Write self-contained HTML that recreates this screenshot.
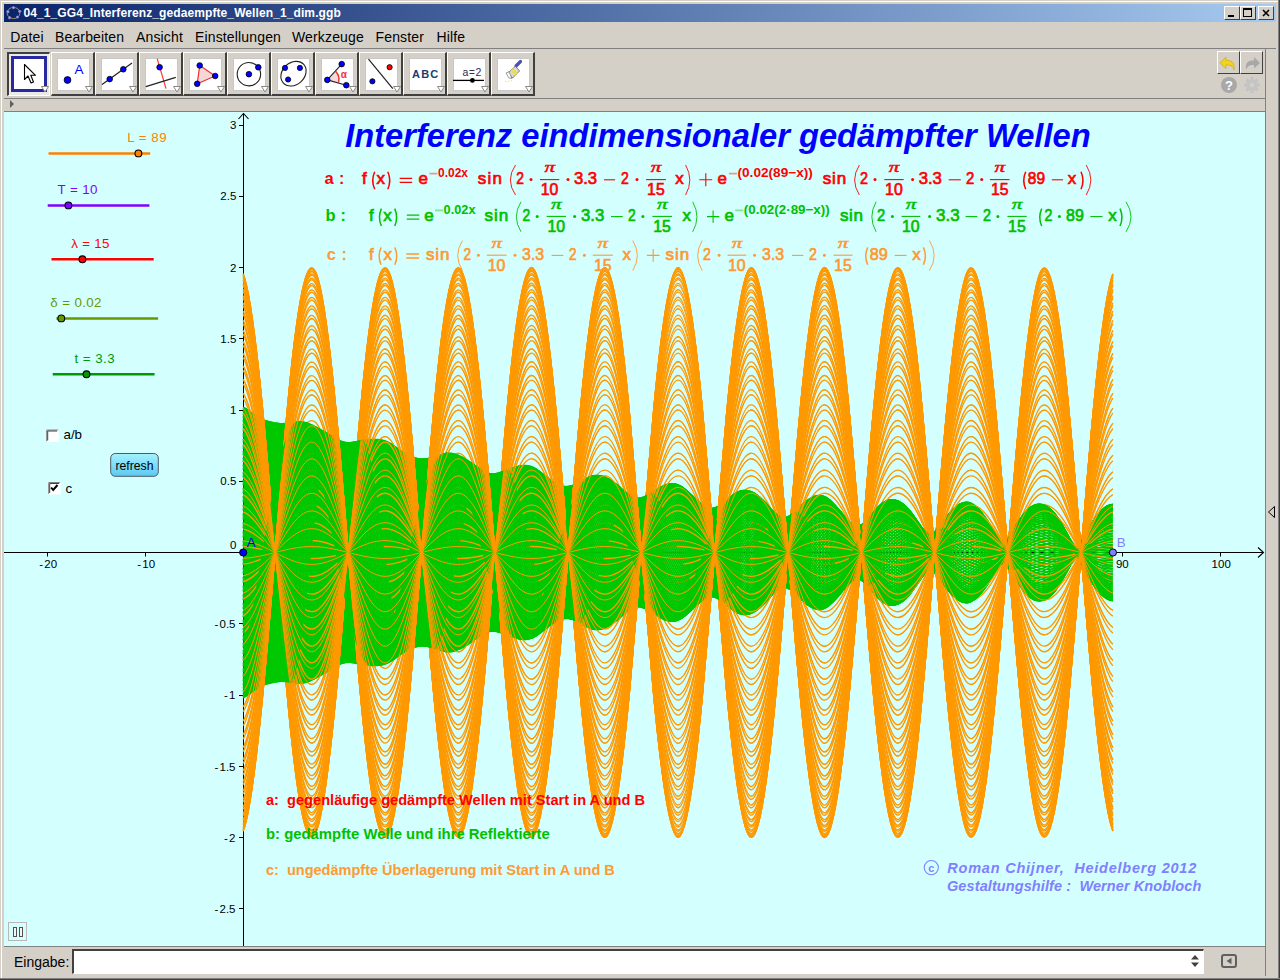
<!DOCTYPE html><html><head><meta charset="utf-8"><style>*{margin:0;padding:0;box-sizing:border-box}
html,body{width:1280px;height:980px;overflow:hidden;background:#d4d0c8;font-family:"Liberation Sans",sans-serif;position:relative}
.a{position:absolute}
.menu span{position:absolute;top:28.5px;font-size:14px;color:#000;line-height:16px;letter-spacing:.15px}
.tb{position:absolute;top:52px;width:43px;height:44px;border-top:1px solid #fff;border-left:1px solid #fff;border-right:1px solid #404040;border-bottom:1px solid #404040;background:#d4d0c8}
.tb:after{content:"";position:absolute;left:0;top:0;right:0;bottom:0;border-right:1px solid #808080;border-bottom:1px solid #808080}
.tb .ic{position:absolute;left:5px;top:5px;width:32px;height:32px;background:#fff;border:1px solid #c0c0c0}
.tb svg{position:absolute;left:0;top:0}
.tri{position:absolute;right:2px;bottom:3px;width:0;height:0}
.wb{position:absolute;top:6px;width:16px;height:14px;background:#d4d0c8;border-top:1px solid #fff;border-left:1px solid #fff;border-right:1px solid #404040;border-bottom:1px solid #404040}
.gl{position:absolute;font-size:12px;color:#000;line-height:14px;white-space:nowrap}
.lab{position:absolute;font-size:12.5px;white-space:nowrap;line-height:14px}

#cb{fill:none;vector-effect:non-scaling-stroke}
.o1{fill:none;stroke:#ff9900;stroke-width:1.35}
.o2{fill:none;stroke:#ff9900;stroke-width:1.0}
.gt path{fill:none;stroke:#00c800;stroke-width:1.6}
</style></head><body>
<div class="a" style="left:1px;top:1px;width:1277px;height:1px;background:#fff"></div>
<div class="a" style="left:1px;top:1px;width:1px;height:977px;background:#fff"></div>
<div class="a" style="left:1278px;top:0;width:1px;height:980px;background:#808080"></div>
<div class="a" style="left:1279px;top:0;width:1px;height:980px;background:#404040"></div>
<div class="a" style="left:0;top:978px;width:1280px;height:1px;background:#808080"></div>
<div class="a" style="left:0;top:979px;width:1280px;height:1px;background:#404040"></div>
<div class="a" style="left:4px;top:4px;width:1272px;height:18px;background:linear-gradient(to right,#0a246a,#a6caf0)"></div>
<svg class="a" style="left:5px;top:5px" width="18" height="16" viewBox="0 0 18 16"><ellipse cx="8.5" cy="8" rx="6.4" ry="5.6" fill="none" stroke="#99906c" stroke-width="1"/><circle cx="8.5" cy="2.6" r="1.6" fill="#a0a0ff" stroke="#202040" stroke-width=".4"/><circle cx="2.9" cy="6.7" r="1.6" fill="#a0a0ff" stroke="#202040" stroke-width=".4"/><circle cx="14.7" cy="6.3" r="1.6" fill="#a0a0ff" stroke="#202040" stroke-width=".4"/><circle cx="4.6" cy="12.7" r="1.6" fill="#a0a0ff" stroke="#202040" stroke-width=".4"/><circle cx="12.5" cy="12" r="1.6" fill="#a0a0ff" stroke="#202040" stroke-width=".4"/></svg>
<div class="a" style="left:23.5px;top:6px;font-size:12px;font-weight:bold;color:#fff;line-height:15px;white-space:nowrap;letter-spacing:.1px">04_1_GG4_Interferenz_gedaempfte_Wellen_1_dim.ggb</div>
<div class="wb" style="left:1224px"><div class="a" style="left:3px;top:8px;width:6px;height:2px;background:#000"></div></div>
<div class="wb" style="left:1240px"><div class="a" style="left:2px;top:1px;width:9px;height:9px;border:1px solid #000;border-top-width:2px"></div></div>
<div class="wb" style="left:1258px"><svg class="a" style="left:3px;top:2px" width="9" height="8"><path d="M1 1L7 7M7 1L1 7" stroke="#000" stroke-width="1.6"/></svg></div>
<div class="menu"><span style="left:10.3px">Datei</span><span style="left:55px">Bearbeiten</span><span style="left:136px">Ansicht</span><span style="left:195px">Einstellungen</span><span style="left:292px">Werkzeuge</span><span style="left:375.5px">Fenster</span><span style="left:436.5px">Hilfe</span></div>
<div class="a" style="left:4px;top:48px;width:1272px;height:1px;background:#808080"></div>
<div class="a" style="left:7px;top:52px;width:43px;height:44px;background:#ebe9e4;border-top:2px solid #404040;border-left:2px solid #404040;border-right:1px solid #fff;border-bottom:1px solid #fff"></div>
<div class="a" style="left:11px;top:56px;width:36px;height:36px;border:3px solid #2828a0;background:#fff"></div>
<svg class="a" style="left:23px;top:63px" width="14" height="23" viewBox="0 0 14 23"><path d="M1.5 1.5 L1.5 16.5 L5 13 L8 20 L10.5 19 L7.8 12.3 L12.5 12.3 Z" fill="#fff" stroke="#000" stroke-width="1.1" stroke-linejoin="round"/></svg>
<svg class="a" style="left:41px;top:86px" width="9" height="7"><path d="M.5 .5H7.5L4 6Z" fill="#fff" stroke="#888" stroke-width="1"/></svg>
<div class="a" style="left:51px;top:52px;width:44px;height:44px;border-top:1px solid #fff;border-left:1px solid #fff;border-right:2px solid #404040;border-bottom:2px solid #404040;background:#d4d0c8"></div>
<div class="a" style="left:57px;top:58px;width:33px;height:33px;background:#fff;border:1px solid #c8c8c8"></div>
<svg class="a" style="left:57px;top:58px" width="33" height="33" viewBox="0 0 33 33"><circle cx="10.5" cy="22" r="3.4" fill="#0000ff" stroke="#000" stroke-width="0.8"/><text x="17.6" y="16.4" font-family="Liberation Sans" font-size="13.5" fill="#0000ff">A</text></svg>
<svg class="a" style="left:85px;top:86px" width="9" height="7"><path d="M.5 .5H7.5L4 6Z" fill="#fff" stroke="#888" stroke-width="1"/></svg>
<div class="a" style="left:95px;top:52px;width:44px;height:44px;border-top:1px solid #fff;border-left:1px solid #fff;border-right:2px solid #404040;border-bottom:2px solid #404040;background:#d4d0c8"></div>
<div class="a" style="left:101px;top:58px;width:33px;height:33px;background:#fff;border:1px solid #c8c8c8"></div>
<svg class="a" style="left:101px;top:58px" width="33" height="33" viewBox="0 0 33 33"><line x1="1" y1="26.5" x2="31" y2="5" stroke="#222" stroke-width="1.2"/><circle cx="8.7" cy="21.1" r="2.8" fill="#0000ff" stroke="#000" stroke-width="0.8"/><circle cx="22.3" cy="11.3" r="2.8" fill="#0000ff" stroke="#000" stroke-width="0.8"/></svg>
<svg class="a" style="left:129px;top:86px" width="9" height="7"><path d="M.5 .5H7.5L4 6Z" fill="#fff" stroke="#888" stroke-width="1"/></svg>
<div class="a" style="left:139px;top:52px;width:44px;height:44px;border-top:1px solid #fff;border-left:1px solid #fff;border-right:2px solid #404040;border-bottom:2px solid #404040;background:#d4d0c8"></div>
<div class="a" style="left:145px;top:58px;width:33px;height:33px;background:#fff;border:1px solid #c8c8c8"></div>
<svg class="a" style="left:145px;top:58px" width="33" height="33" viewBox="0 0 33 33"><line x1="12.2" y1="0.7" x2="21" y2="30.7" stroke="#f33" stroke-width="1.2"/><line x1="0.8" y1="28.6" x2="30.8" y2="19.4" stroke="#222" stroke-width="1.2"/><circle cx="14.6" cy="9.2" r="2.8" fill="#0000ff" stroke="#000" stroke-width="0.8"/></svg>
<svg class="a" style="left:173px;top:86px" width="9" height="7"><path d="M.5 .5H7.5L4 6Z" fill="#fff" stroke="#888" stroke-width="1"/></svg>
<div class="a" style="left:183px;top:52px;width:44px;height:44px;border-top:1px solid #fff;border-left:1px solid #fff;border-right:2px solid #404040;border-bottom:2px solid #404040;background:#d4d0c8"></div>
<div class="a" style="left:189px;top:58px;width:33px;height:33px;background:#fff;border:1px solid #c8c8c8"></div>
<svg class="a" style="left:189px;top:58px" width="33" height="33" viewBox="0 0 33 33"><polygon points="10.7,7.5 26.2,18 8.2,25.8" fill="#f4d8d8" stroke="#e33" stroke-width="1.2"/><circle cx="10.7" cy="7.5" r="2.8" fill="#0000ff" stroke="#000" stroke-width="0.8"/><circle cx="26.2" cy="18" r="2.8" fill="#0000ff" stroke="#000" stroke-width="0.8"/><circle cx="8.2" cy="25.8" r="2.8" fill="#0000ff" stroke="#000" stroke-width="0.8"/></svg>
<svg class="a" style="left:217px;top:86px" width="9" height="7"><path d="M.5 .5H7.5L4 6Z" fill="#fff" stroke="#888" stroke-width="1"/></svg>
<div class="a" style="left:227px;top:52px;width:44px;height:44px;border-top:1px solid #fff;border-left:1px solid #fff;border-right:2px solid #404040;border-bottom:2px solid #404040;background:#d4d0c8"></div>
<div class="a" style="left:233px;top:58px;width:33px;height:33px;background:#fff;border:1px solid #c8c8c8"></div>
<svg class="a" style="left:233px;top:58px" width="33" height="33" viewBox="0 0 33 33"><circle cx="15.9" cy="16.2" r="11.7" fill="none" stroke="#222" stroke-width="1.1"/><circle cx="15.9" cy="16.2" r="2.8" fill="#0000ff" stroke="#000" stroke-width="0.8"/><circle cx="25.3" cy="9.3" r="2.8" fill="#0000ff" stroke="#000" stroke-width="0.8"/></svg>
<svg class="a" style="left:261px;top:86px" width="9" height="7"><path d="M.5 .5H7.5L4 6Z" fill="#fff" stroke="#888" stroke-width="1"/></svg>
<div class="a" style="left:271px;top:52px;width:44px;height:44px;border-top:1px solid #fff;border-left:1px solid #fff;border-right:2px solid #404040;border-bottom:2px solid #404040;background:#d4d0c8"></div>
<div class="a" style="left:277px;top:58px;width:33px;height:33px;background:#fff;border:1px solid #c8c8c8"></div>
<svg class="a" style="left:277px;top:58px" width="33" height="33" viewBox="0 0 33 33"><ellipse cx="16.5" cy="15.7" rx="13.8" ry="11" transform="rotate(-42 16.5 15.7)" fill="none" stroke="#222" stroke-width="1.1"/><circle cx="8" cy="9.9" r="2.6" fill="#0000ff" stroke="#000" stroke-width="0.8"/><circle cx="22.9" cy="9.9" r="2.6" fill="#0000ff" stroke="#000" stroke-width="0.8"/><circle cx="11.1" cy="21.5" r="2.6" fill="#0000ff" stroke="#000" stroke-width="0.8"/></svg>
<svg class="a" style="left:305px;top:86px" width="9" height="7"><path d="M.5 .5H7.5L4 6Z" fill="#fff" stroke="#888" stroke-width="1"/></svg>
<div class="a" style="left:315px;top:52px;width:44px;height:44px;border-top:1px solid #fff;border-left:1px solid #fff;border-right:2px solid #404040;border-bottom:2px solid #404040;background:#d4d0c8"></div>
<div class="a" style="left:321px;top:58px;width:33px;height:33px;background:#fff;border:1px solid #c8c8c8"></div>
<svg class="a" style="left:321px;top:58px" width="33" height="33" viewBox="0 0 33 33"><path d="M6.3 21.9 L14.8 13.4 A12 12 0 0 1 17.6 24.3 Z" fill="#f6dada"/><path d="M14.8 13.4 A12 12 0 0 1 17.6 24.3" fill="none" stroke="#e33" stroke-width="1.5"/><line x1="6.3" y1="21.9" x2="20.7" y2="6.1" stroke="#222" stroke-width="1.1"/><line x1="6.3" y1="21.9" x2="25.3" y2="27.2" stroke="#222" stroke-width="1.1"/><text x="19.8" y="20" font-family="Liberation Sans" font-weight="bold" font-size="10" fill="#e33">α</text><circle cx="6.3" cy="21.9" r="2.8" fill="#0000ff" stroke="#000" stroke-width="0.8"/><circle cx="20.7" cy="6.1" r="2.8" fill="#0000ff" stroke="#000" stroke-width="0.8"/><circle cx="25.3" cy="27.2" r="2.8" fill="#0000ff" stroke="#000" stroke-width="0.8"/></svg>
<svg class="a" style="left:349px;top:86px" width="9" height="7"><path d="M.5 .5H7.5L4 6Z" fill="#fff" stroke="#888" stroke-width="1"/></svg>
<div class="a" style="left:359px;top:52px;width:44px;height:44px;border-top:1px solid #fff;border-left:1px solid #fff;border-right:2px solid #404040;border-bottom:2px solid #404040;background:#d4d0c8"></div>
<div class="a" style="left:365px;top:58px;width:33px;height:33px;background:#fff;border:1px solid #c8c8c8"></div>
<svg class="a" style="left:365px;top:58px" width="33" height="33" viewBox="0 0 33 33"><line x1="3.5" y1="1.1" x2="27.8" y2="30.7" stroke="#222" stroke-width="1.2"/><circle cx="24.6" cy="9.2" r="2.6" fill="#f00" stroke="#000" stroke-width="0.8"/><circle cx="7.4" cy="23.3" r="2.6" fill="#0000ff" stroke="#000" stroke-width="0.8"/></svg>
<svg class="a" style="left:393px;top:86px" width="9" height="7"><path d="M.5 .5H7.5L4 6Z" fill="#fff" stroke="#888" stroke-width="1"/></svg>
<div class="a" style="left:403px;top:52px;width:44px;height:44px;border-top:1px solid #fff;border-left:1px solid #fff;border-right:2px solid #404040;border-bottom:2px solid #404040;background:#d4d0c8"></div>
<div class="a" style="left:409px;top:58px;width:33px;height:33px;background:#fff;border:1px solid #c8c8c8"></div>
<svg class="a" style="left:409px;top:58px" width="33" height="33" viewBox="0 0 33 33"><text x="3" y="19.8" font-family="Liberation Sans" font-weight="bold" font-size="11" letter-spacing="1.2" fill="#1c3c6c">ABC</text></svg>
<svg class="a" style="left:437px;top:86px" width="9" height="7"><path d="M.5 .5H7.5L4 6Z" fill="#fff" stroke="#888" stroke-width="1"/></svg>
<div class="a" style="left:447px;top:52px;width:44px;height:44px;border-top:1px solid #fff;border-left:1px solid #fff;border-right:2px solid #404040;border-bottom:2px solid #404040;background:#d4d0c8"></div>
<div class="a" style="left:453px;top:58px;width:33px;height:33px;background:#fff;border:1px solid #c8c8c8"></div>
<svg class="a" style="left:453px;top:58px" width="33" height="33" viewBox="0 0 33 33"><text x="9.6" y="18.2" font-family="Liberation Sans" font-size="10.5" fill="#1c2c4c">a</text><text x="16" y="18.2" font-family="Liberation Sans" font-size="10" fill="#333">=</text><text x="22.6" y="18.2" font-family="Liberation Sans" font-size="10.5" fill="#1c2c6c">2</text><line x1="0" y1="22.4" x2="31" y2="22.4" stroke="#000" stroke-width="1.3"/><circle cx="19.4" cy="22.4" r="2.4" fill="#000"/></svg>
<svg class="a" style="left:481px;top:86px" width="9" height="7"><path d="M.5 .5H7.5L4 6Z" fill="#fff" stroke="#888" stroke-width="1"/></svg>
<div class="a" style="left:491px;top:52px;width:44px;height:44px;border-top:1px solid #fff;border-left:1px solid #fff;border-right:2px solid #404040;border-bottom:2px solid #404040;background:#d4d0c8"></div>
<div class="a" style="left:497px;top:58px;width:33px;height:33px;background:#fff;border:1px solid #c8c8c8"></div>
<svg class="a" style="left:497px;top:58px" width="33" height="33" viewBox="0 0 33 33"><path d="M23.5 3.5 L19 8" stroke="#4a50b0" stroke-width="3.2" stroke-linecap="round"/><path d="M18.5 8.2 L11 14.8 L15.6 20 L22.6 13 Z" fill="#d8d8d8" stroke="#555" stroke-width="0.7"/><path d="M12 13.8 L9 15 L12 20 L15 20.5 Z" fill="#fff" stroke="#555" stroke-width="0.6"/><path d="M14 12 L19 17.5 M15.5 10.5 L20.5 16" stroke="#f0e020" stroke-width="1.3"/><path d="M8 23.5 L14 23 L16 21" stroke="#f0f040" stroke-width="1" stroke-dasharray="1.5 1.5" fill="none"/></svg>
<svg class="a" style="left:525px;top:86px" width="9" height="7"><path d="M.5 .5H7.5L4 6Z" fill="#fff" stroke="#888" stroke-width="1"/></svg>
<div class="a" style="left:1217px;top:51px;width:23px;height:23px;border-top:1px solid #fff;border-left:1px solid #fff;border-right:1px solid #404040;border-bottom:1px solid #404040"></div>
<div class="a" style="left:1240px;top:51px;width:23px;height:23px;border-top:1px solid #fff;border-left:1px solid #fff;border-right:1px solid #404040;border-bottom:1px solid #404040"></div>
<svg class="a" style="left:1219px;top:53px" width="19" height="19" viewBox="0 0 19 19"><path d="M1 10 L7 4 L7 7.5 C12 7 16 9 15 17 C14 13 11 11.5 7 12 L7 15.5 Z" fill="#f2d21e" stroke="#c8a800" stroke-width=".6"/></svg>
<svg class="a" style="left:1242px;top:53px" width="19" height="19" viewBox="0 0 19 19"><path d="M18 10 L12 4 L12 7.5 C7 7 3 9 4 17 C5 13 8 11.5 12 12 L12 15.5 Z" fill="#a8a8a8"/></svg>
<svg class="a" style="left:1220px;top:76px" width="40" height="18" viewBox="0 0 40 18"><circle cx="9" cy="9" r="8" fill="#a8a8a8"/><text x="9" y="13.6" text-anchor="middle" font-family="Liberation Sans" font-weight="bold" font-size="13" fill="#fff">?</text><g transform="translate(32 9)" fill="#c4c4c4"><circle r="5.6"/><rect x="-1.6" y="-8" width="3.2" height="4" transform="rotate(0)"/><rect x="-1.6" y="-8" width="3.2" height="4" transform="rotate(45)"/><rect x="-1.6" y="-8" width="3.2" height="4" transform="rotate(90)"/><rect x="-1.6" y="-8" width="3.2" height="4" transform="rotate(135)"/><rect x="-1.6" y="-8" width="3.2" height="4" transform="rotate(180)"/><rect x="-1.6" y="-8" width="3.2" height="4" transform="rotate(225)"/><rect x="-1.6" y="-8" width="3.2" height="4" transform="rotate(270)"/><rect x="-1.6" y="-8" width="3.2" height="4" transform="rotate(315)"/><circle r="2.4" fill="#d4d0c8"/></g></svg>
<div class="a" style="left:4px;top:98px;width:1261px;height:1px;background:#808080"></div>
<svg class="a" style="left:10px;top:100px" width="5" height="8"><path d="M0 0L4 4L0 8Z" fill="#606060"/></svg>
<div class="a" style="left:4px;top:111px;width:1261px;height:1px;background:#808080"></div>
<div class="a" style="left:1265px;top:49px;width:1px;height:927px;background:#808080"></div>
<svg class="a" style="left:1266px;top:505px" width="12" height="14"><path d="M8.5 1.5L2.5 7L8.5 12.5Z" fill="none" stroke="#000" stroke-width="1"/></svg>
<div class="a" style="left:4px;top:946px;width:1261px;height:1px;background:#808080"></div>
<div class="a" style="left:14px;top:954px;font-size:14px;line-height:16px">Eingabe:</div>
<div class="a" style="left:72px;top:949px;width:1132px;height:25px;background:#fff;border-top:2px solid #404040;border-left:2px solid #404040;border-right:1px solid #fff;border-bottom:1px solid #fff"></div>
<svg class="a" style="left:1190px;top:954px" width="10" height="14"><path d="M5 1L9 5.5H1Z M5 13L9 8.5H1Z" fill="#404040"/></svg>
<div class="a" style="left:1221px;top:954px;width:16px;height:14px;border:2px solid #606060;border-radius:3px"></div>
<svg class="a" style="left:1225px;top:957px" width="8" height="8"><path d="M6.5 .8V7.2L1.5 4Z" fill="#606060"/></svg>
<div class="a" style="left:4px;top:112px;width:1261px;height:834px;overflow:hidden;background:#d4ffff">
<svg class="a" style="left:0;top:0" width="1261" height="834" viewBox="4 112 1261 834">
<rect x="4" y="112" width="1261" height="834" fill="#d4ffff"/>
<path d="M4 552.5H1263M243.5 946V114" stroke="#000" stroke-width="1" fill="none"/>
<path d="M1258 547.5L1263.5 552.5L1258 557.5M238.5 119L243.5 113.5L248.5 119" stroke="#000" stroke-width="1.1" fill="none"/>
<path d="M47.5 552v4.5M145.5 552v4.5M340.5 552v4.5M438.5 552v4.5M536.5 552v4.5M634.5 552v4.5M731.5 552v4.5M829.5 552v4.5M927.5 552v4.5M1024.5 552v4.5M1122.5 552v4.5M1220.5 552v4.5M243 908.5h-4M243 837.5h-4M243 766.5h-4M243 695.5h-4M243 623.5h-4M243 481.5h-4M243 410.5h-4M243 338.5h-4M243 267.5h-4M243 196.5h-4M243 125.5h-4" stroke="#000" stroke-width="1"/>
<g font-family="Liberation Sans" font-size="11.5" fill="#000"><text x="39.2" y="568">-<tspan dx="1.2">20</tspan></text><text x="137.2" y="568">-<tspan dx="1.2">10</tspan></text><text x="340.9" y="568" text-anchor="middle">10</text><text x="438.6" y="568" text-anchor="middle">20</text><text x="536.4" y="568" text-anchor="middle">30</text><text x="634.1" y="568" text-anchor="middle">40</text><text x="731.8" y="568" text-anchor="middle">50</text><text x="829.5" y="568" text-anchor="middle">60</text><text x="927.2" y="568" text-anchor="middle">70</text><text x="1025.0" y="568" text-anchor="middle">80</text><text x="1115.9" y="568">90</text><text x="1211.6" y="568">100</text><text x="235.5" y="913.0" text-anchor="end">-<tspan dx="1.2">2.5</tspan></text><text x="235.5" y="841.8" text-anchor="end">-<tspan dx="1.2">2</tspan></text><text x="235.5" y="770.5" text-anchor="end">-<tspan dx="1.2">1.5</tspan></text><text x="235.5" y="699.3" text-anchor="end">-<tspan dx="1.2">1</tspan></text><text x="235.5" y="628.0" text-anchor="end">-<tspan dx="1.2">0.5</tspan></text><text x="236.3" y="485.4" text-anchor="end">0.5</text><text x="236.3" y="414.1" text-anchor="end">1</text><text x="236.3" y="342.9" text-anchor="end">1.5</text><text x="236.3" y="271.6" text-anchor="end">2</text><text x="236.3" y="200.3" text-anchor="end">2.5</text><text x="236.3" y="129.1" text-anchor="end">3</text><text x="236.3" y="549.3" text-anchor="end">0</text></g>
<defs><path id="cb" d="M243.2 -139.4c8.1 10.2 16.1 47.1 24.2 93.8s16.1 101.3 24.1 138.5s16.1 56 24.2 47.4s16.1-44.1 24.1-90s16.1-100.8 24.2-139.3s16.1-59 24.2-52.1s16.1 40.9 24.1 86.2s16.1 100.5 24.2 140s16.1 61.7 24.1 56.6s16.1-37.4 24.2-82.2s16.1-100.2 24.1-140.6s16.1-64.5 24.2-61.1s16.1 34.2 24.2 78.2s16.1 99.6 24.1 140.9s16.1 67.2 24.2 65.5s16.1-30.9 24.1-74s16.1-98.7 24.2-141.1s16.1-69.8 24.2-69.8s16.1 27.6 24.1 69.8s16.1 97.9 24.2 141.1s16.1 72.3 24.1 74s16.1-24 24.2-65.5s16.1-97 24.1-140.9s16.1-74.8 24.2-78.2s16.1 20.6 24.2 61.1s16.1 96 24.1 140.6s16.1 77 24.2 82.2s16.1-17.2 24.1-56.6s16.1-94.5 24.2-140s16.1-79.3 24.2-86.2s16.1 13.8 24.1 52.1s16.1 93.2 24.2 139.3s16.1 81.5 24.1 90s16.1-10 24.2-47.4s16.1-92 24.1-138.5s16.1-83.6 24.2-93.8"/></defs>
<g><g class="gt"><path d="M243.2 654.1c9.7-44.9 19.3-113.7 29-163.3s19.3-76.6 29-66.9s19.3 54.5 29 104.7s19.3 101.9 29 124.2s19.3 14 29-17.1s19.3-82.7 28.9-121.7s19.3-63.5 29-59.9s19.3 34.6 29 72s19.3 78.4 29 98.4s19.3 17.8 29-3.4s19.3-59.4 29-90.6s19.3-53.3 29-53.8s19.3 20.2 29 48.1s19.3 60.9 29 79s19.3 20.2 29 6.4s19.3-42.5 28.9-67.7s19.3-45.7 29-49.3s19.3 9.5 29 30.4s19.3 48 29 64.9s19.3 22.5 29 14.2s19.3-29.7 29-50.9s19.3-40.6 29-46.8s19.3 1.1 29 16.8s19.3 38.8 29 55.2s19.3 25.2 29 21.3s19.3-20.2 28.9-38.5s19.3-37.8 29-46.6s19.3-6.6 29 5.3s19.3 32.5 29 49.4s19.3 28.9 29 28.9"/></g><use href="#cb" class="o1" transform="translate(0 552.5) scale(1 -1.6423)"/><g class="gt"><path d="M243.2 647.4c9.7-47.1 19.3-116.1 29-163.7s19.3-70.9 29-58.1s19.3 59.9 29 110.3s19.3 100.1 29 119.7s19.3 8.3 29-24.6s19.3-84.6 28.9-122.3s19.3-59.5 29-53.6s19.3 38.6 29 76.2s19.3 77.3 29 95.4s19.3 13.7 29-8.8s19.3-61 29-91.3s19.3-50.5 29-49.3s19.3 23.1 29 51.2s19.3 60.1 29 76.9s19.3 17.3 29 2.5s19.3-43.6 28.9-68.2s19.3-43.6 29-46s19.3 11.5 29 32.5s19.3 47.4 29 63.3s19.3 20.4 29 11.5s19.3-30.4 29-51s19.3-39 29-44.4s19.3 2.3 29 18s19.3 38.1 29 53.8s19.3 23.7 29 19.5s19.3-20.2 28.9-38s19.3-36.6 29-44.9s19.3-5.9 29 5.7s19.3 31.6 29 47.9s19.3 27.9 29 27.9"/></g><use href="#cb" class="o1" transform="translate(0 552.5) scale(1 -1.5674)"/><g class="gt"><path d="M243.2 640.3c9.7-49.2 19.3-117.9 29-163.4s19.3-64.9 29-49.1s19.3 65.1 29 115.4s19.3 98 29 114.9s19.3 2.4 29-32.1s19.3-86.1 28.9-122.4s19.3-55.3 29-47.1s19.3 42.4 29 80.1s19.3 76 29 92.1s19.3 9.3 29-14.4s19.3-62.2 29-91.5s19.3-47.4 29-44.6s19.3 26 29 54.1s19.3 59.2 29 74.5s19.3 14.2 29-1.4s19.3-44.6 28.9-68.4s19.3-41.4 29-42.6s19.3 13.6 29 34.6s19.3 46.5 29 61.4s19.3 18.2 29 8.7s19.3-30.9 29-50.9s19.3-37.3 29-41.9s19.3 3.6 29 19.2s19.3 37.3 29 52.2s19.3 22.2 29 17.7s19.3-20.2 28.9-37.5s19.3-35.2 29-43s19.3-5.2 29 6.1s19.3 30.6 29 46.3s19.3 26.8 29 26.8"/></g><use href="#cb" class="o1" transform="translate(0 552.5) scale(1 -1.4863)"/><g class="gt"><path d="M243.2 632.9c9.7-51 19.3-119.3 29-162.5s19.3-58.7 29-39.9s19.3 70 29 120.1s19.3 95.4 29 109.5s19.3-3.5 29-39.4s19.3-87.4 28.9-122.1s19.3-50.9 29-40.4s19.3 46.2 29 83.8s19.3 74.2 29 88.3s19.3 5 29-19.8s19.3-63.2 29-91.4s19.3-44.2 29-39.7s19.3 28.8 29 56.9s19.3 57.9 29 71.7s19.3 11 29-5.4s19.3-45.2 28.9-68.2s19.3-39 29-39.1s19.3 15.6 29 36.5s19.3 45.6 29 59.4s19.3 15.8 29 5.8s19.3-31.2 29-50.5s19.3-35.5 29-39.3s19.3 4.9 29 20.3s19.3 36.3 29 50.4s19.3 20.4 29 15.7s19.3-20.1 28.9-36.7s19.3-33.6 29-40.9s19.3-4.5 29 6.5s19.3 29.4 29 44.4s19.3 25.6 29 25.6"/></g><use href="#cb" class="o1" transform="translate(0 552.5) scale(1 -1.3993)"/><g class="gt"><path d="M243.2 625.1c9.7-52.6 19.3-120.1 29-160.9s19.3-52.4 29-30.6s19.3 74.6 29 124.3s19.3 92.6 29 103.8s19.3-9.3 29-46.6s19.3-88.3 28.9-121.2s19.3-46.3 29-33.6s19.3 49.9 29 87.2s19.3 72.2 29 84.2s19.3 .6 29-25.2s19.3-64 29-90.9s19.3-40.8 29-34.7s19.3 31.5 29 59.4s19.3 56.4 29 68.7s19.3 7.9 29-9.3s19.3-45.7 28.9-67.8s19.3-36.5 29-35.4s19.3 17.5 29 38.2s19.3 44.4 29 57s19.3 13.5 29 3s19.3-31.4 29-50s19.3-33.5 29-36.4s19.3 6.2 29 21.3s19.3 35.2 29 48.4s19.3 18.8 29 13.8s19.3-20.1 28.9-36s19.3-31.9 29-38.6s19.3-3.7 29 6.9s19.3 28.1 29 42.4s19.3 24.3 29 24.3"/></g><use href="#cb" class="o1" transform="translate(0 552.5) scale(1 -1.3068)"/><g class="gt"><path d="M243.2 617.1c9.7-54.1 19.3-120.6 29-158.7s19.3-45.7 29-21.1s19.3 79 29 128s19.3 89.3 29 97.6s19.3-15.2 29-53.6s19.3-88.8 28.9-119.9s19.3-41.4 29-26.6s19.3 53.1 29 90.1s19.3 70 29 79.8s19.3-3.7 29-30.4s19.3-64.5 29-90.1s19.3-37.3 29-29.6s19.3 34 29 61.7s19.3 54.8 29 65.5s19.3 4.6 29-13.3s19.3-46.1 28.9-67.1s19.3-33.8 29-31.5s19.3 19.3 29 39.8s19.3 43 29 54.4s19.3 11.1 29 .2s19.3-31.6 29-49.3s19.3-31.3 29-33.4s19.3 7.4 29 22.2s19.3 34 29 46.2s19.3 16.9 29 11.7s19.3-19.7 28.9-34.9s19.3-30.1 29-36.2s19.3-3 29 7.2s19.3 26.8 29 40.2s19.3 22.9 29 22.9"/></g><use href="#cb" class="o1" transform="translate(0 552.5) scale(1 -1.2092)"/><g class="gt"><path d="M243.2 608.8c9.7-55.3 19.3-120.4 29-155.8s19.3-39 29-11.6s19.3 83 29 131.2s19.3 85.6 29 91s19.3-20.9 29-60.4s19.3-89 28.9-118.1s19.3-36.3 29-19.4s19.3 56.3 29 92.7s19.3 67.3 29 75s19.3-8 29-35.6s19.3-64.7 29-88.8s19.3-33.6 29-24.3s19.3 36.4 29 63.7s19.3 52.8 29 61.9s19.3 1.4 29-17.1s19.3-46.3 28.9-66.2s19.3-31 29-27.5s19.3 21 29 41.2s19.3 41.5 29 51.7s19.3 8.6 29-2.7s19.3-31.5 29-48.3s19.3-29.2 29-30.4s19.3 8.6 29 23.1s19.3 32.6 29 43.8s19.3 15.1 29 9.7s19.3-19.6 28.9-33.9s19.3-28.2 29-33.6s19.3-2.3 29 7.4s19.3 25.4 29 38s19.3 21.3 29 21.3"/></g><use href="#cb" class="o1" transform="translate(0 552.5) scale(1 -1.1068)"/><g class="gt"><path d="M243.2 600.2c9.7-56.3 19.3-119.8 29-152.3s19.3-32 29-2s19.3 86.7 29 133.9s19.3 81.6 29 84.1s19.3-26.6 29-66.9s19.3-88.8 28.9-115.8s19.3-31.4 29-12.4s19.3 59.2 29 95s19.3 64.5 29 70s19.3-12.3 29-40.6s19.3-64.8 29-87.3s19.3-29.8 29-18.9s19.3 38.7 29 65.5s19.3 50.8 29 58.2s19.3-2 29-21s19.3-46.3 28.9-65s19.3-28.1 29-23.4s19.3 22.7 29 42.5s19.3 39.8 29 48.7s19.3 6.2 29-5.5s19.3-31.4 29-47.2s19.3-26.9 29-27.2s19.3 9.9 29 23.9s19.3 31 29 41.2s19.3 13.2 29 7.6s19.3-19.2 28.9-32.6s19.3-26.1 29-30.9s19.3-1.6 29 7.6s19.3 23.8 29 35.5s19.3 19.8 29 19.8"/></g><use href="#cb" class="o1" transform="translate(0 552.5) scale(1 -1.0000)"/><g class="gt"><path d="M243.2 591.5c9.7-57 19.3-118.9 29-148.3s19.3-24.8 29 7.7s19.3 90 29 136s19.3 77.4 29 76.9s19.3-32.2 29-73.2s19.3-88.3 28.9-113.1s19.3-26.1 29-5.2s19.3 61.9 29 96.9s19.3 61.5 29 64.7s19.3-16.5 29-45.4s19.3-64.6 29-85.5s19.3-25.8 29-13.4s19.3 40.7 29 66.9s19.3 48.5 29 54.2s19.3-5.1 29-24.6s19.3-46 28.9-63.5s19.3-25.1 29-19.3s19.3 24.3 29 43.6s19.3 38 29 45.6s19.3 3.6 29-8.4s19.3-31.1 29-45.9s19.3-24.3 29-23.8s19.3 10.9 29 24.5s19.3 29.4 29 38.5s19.3 11.1 29 5.4s19.3-18.7 28.9-31.2s19.3-24 29-28.1s19.3-.8 29 7.9s19.3 22.2 29 32.9s19.3 18.1 29 18.1"/></g><use href="#cb" class="o1" transform="translate(0 552.5) scale(1 -0.8893)"/><g class="gt"><path d="M243.2 582.7c9.7-57.6 19.3-117.4 29-143.7s19.3-17.7 29 17.2s19.3 93.1 29 137.7s19.3 72.8 29 69.3s19.3-37.6 29-79.2s19.3-87.5 28.9-110s19.3-20.6 29 2.2s19.3 64.4 29 98.4s19.3 58 29 59s19.3-20.6 29-50s19.3-64.1 29-83.3s19.3-21.7 29-7.9s19.3 42.7 29 68.2s19.3 46 29 50s19.3-8.3 29-28.2s19.3-45.7 28.9-61.9s19.3-22 29-15s19.3 25.9 29 44.6s19.3 36 29 42.2s19.3 1.1 29-11.2s19.3-30.7 29-44.4s19.3-21.8 29-20.4s19.3 12.1 29 25.1s19.3 27.6 29 35.6s19.3 9 29 3.2s19.3-18.1 28.9-29.6s19.3-21.8 29-25.2s19.3 0 29 8.1s19.3 20.4 29 30.1s19.3 16.3 29 16.3"/></g><use href="#cb" class="o1" transform="translate(0 552.5) scale(1 -0.7750)"/><g class="gt"><path d="M243.2 573.7c9.7-57.9 19.3-115.4 29-138.4s19.3-10.5 29 26.6s19.3 95.7 29 138.8s19.3 67.8 29 61.4s19.3-42.8 29-84.8s19.3-86.3 28.9-106.4s19.3-15.2 29 9.4s19.3 66.6 29 99.5s19.3 54.6 29 53.3s19.3-24.9 29-54.6s19.3-63.3 29-80.7s19.3-17.6 29-2.4s19.3 44.5 29 69.2s19.3 43.3 29 45.6s19.3-11.5 29-31.7s19.3-45.1 28.9-59.9s19.3-18.7 29-10.7s19.3 27.2 29 45.3s19.3 33.9 29 38.7s19.3-1.4 29-13.9s19.3-30.3 29-42.8s19.3-19.1 29-16.8s19.3 13 29 25.5s19.3 25.7 29 32.6s19.3 7.1 29 1.1s19.3-17.6 28.9-28.1s19.3-19.4 29-22.1s19.3 .7 29 8.2s19.3 18.5 29 27.2s19.3 14.6 29 14.6"/></g><use href="#cb" class="o1" transform="translate(0 552.5) scale(1 -0.6577)"/><g class="gt"><path d="M243.2 564.6c9.7-58 19.3-113 29-132.6s19.3-3.2 29 36s19.3 97.9 29 139.3s19.3 62.7 29 53.4s19.3-48 29-90.2s19.3-84.7 28.9-102.3s19.3-9.8 29 16.5s19.3 68.5 29 100.2s19.3 50.8 29 47.3s19.3-28.8 29-58.8s19.3-62.3 29-77.8s19.3-13.5 29 3.1s19.3 46 29 69.9s19.3 40.5 29 41s19.3-14.7 29-35.1s19.3-44.4 28.9-57.7s19.3-15.4 29-6.3s19.3 28.4 29 45.8s19.3 31.7 29 35.1s19.3-4 29-16.6s19.3-29.6 29-40.9s19.3-16.4 29-13.3s19.3 14.1 29 25.9s19.3 23.8 29 29.5s19.3 4.8 29-1.2s19.3-16.9 28.9-26.3s19.3-17.1 29-19.1s19.3 1.5 29 8.4s19.3 16.7 29 24.3s19.3 12.7 29 12.7"/></g><use href="#cb" class="o1" transform="translate(0 552.5) scale(1 -0.5378)"/><g class="gt"><path d="M243.2 555.5c9.7-57.9 19.3-110.2 29-126.4s19.3 4.2 29 45.4s19.3 99.7 29 139.2s19.3 57.3 29 45.1s19.3-52.9 29-95.1s19.3-82.9 28.9-98s19.3-4.1 29 23.7s19.3 70.1 29 100.5s19.3 46.8 29 41.1s19.3-32.7 29-62.8s19.3-61.1 29-74.7s19.3-9.1 29 8.7s19.3 47.5 29 70.4s19.3 37.4 29 36.2s19.3-17.8 29-38.3s19.3-43.6 28.9-55.4s19.3-12 29-1.9s19.3 29.7 29 46.3s19.3 29.2 29 31.2s19.3-6.4 29-19.2s19.3-28.8 29-38.9s19.3-13.7 29-9.7s19.3 15 29 26.2s19.3 21.7 29 26.2s19.3 2.7 29-3.4s19.3-16.1 28.9-24.4s19.3-14.6 29-15.9s19.3 2.3 29 8.5s19.3 14.7 29 21.2s19.3 10.7 29 10.7"/></g><use href="#cb" class="o1" transform="translate(0 552.5) scale(1 -0.4158)"/><g class="gt"><path d="M243.2 546.4c9.7-57.5 19.3-106.9 29-119.6s19.3 11.4 29 54.4s19.3 101.3 29 138.7s19.3 51.6 29 36.6s19.3-57.6 29-99.7s19.3-80.7 28.9-93.2s19.3 1.4 29 30.7s19.3 71.6 29 100.5s19.3 42.6 29 34.7s19.3-36.5 29-66.6s19.3-59.6 29-71.2s19.3-4.8 29 14.2s19.3 48.7 29 70.5s19.3 34.3 29 31.3s19.3-20.8 29-41.4s19.3-42.4 28.9-52.7s19.3-8.6 29 2.5s19.3 30.8 29 46.5s19.3 26.7 29 27.3s19.3-8.9 29-21.7s19.3-28.1 29-36.9s19.3-10.8 29-6s19.3 16 29 26.4s19.3 19.5 29 22.8s19.3 .6 29-5.5s19.3-15.3 28.9-22.5s19.3-12 29-12.6s19.3 3 29 8.5s19.3 12.6 29 18s19.3 8.9 29 8.9"/></g><use href="#cb" class="o1" transform="translate(0 552.5) scale(1 -0.2922)"/><g class="gt"><path d="M243.2 537.3c9.7-56.9 19.3-103.2 29-112.4s19.3 18.7 29 63.3s19.3 102.4 29 137.6s19.3 45.8 29 28s19.3-62.1 29-103.9s19.3-78.2 28.9-88s19.3 6.8 29 37.5s19.3 72.8 29 100.1s19.3 38.3 29 28.2s19.3-40.1 29-70.1s19.3-57.8 29-67.4s19.3-.6 29 19.6s19.3 49.8 29 70.4s19.3 31 29 26.3s19.3-23.7 29-44.3s19.3-41.2 28.9-49.9s19.3-5.2 29 6.9s19.3 31.6 29 46.4s19.3 24.1 29 23.3s19.3-11.4 29-24.2s19.3-27 29-34.5s19.3-8 29-2.4s19.3 16.8 29 26.5s19.3 17.3 29 19.3s19.3-1.4 29-7.6s19.3-14.5 28.9-20.5s19.3-9.5 29-9.3s19.3 3.8 29 8.6s19.3 10.6 29 14.8s19.3 6.8 29 6.8"/></g><use href="#cb" class="o1" transform="translate(0 552.5) scale(1 -0.1674)"/><g class="gt"><path d="M243.2 528.2c9.7-56.1 19.3-99 29-104.6s19.3 25.9 29 71.9s19.3 103 29 135.9s19.3 39.8 29 19.3s19.3-66.4 29-107.8s19.3-75.3 28.9-82.4s19.3 12.4 29 44.3s19.3 73.5 29 99.2s19.3 33.7 29 21.5s19.3-43.5 29-73.3s19.3-55.9 29-63.4s19.3 3.8 29 25s19.3 50.6 29 70s19.3 27.6 29 21.2s19.3-26.6 29-47.1s19.3-39.8 28.9-46.8s19.3-1.8 29 11.2s19.3 32.5 29 46.4s19.3 21.3 29 19.1s19.3-13.8 29-26.6s19.3-26 29-32.1s19.3-5 29 1.4s19.3 17.5 29 26.4s19.3 15 29 15.8s19.3-3.5 29-9.7s19.3-13.7 28.9-18.5s19.3-6.8 29-5.9s19.3 4.4 29 8.5s19.3 8.5 29 11.6s19.3 4.8 29 4.8"/></g><use href="#cb" class="o1" transform="translate(0 552.5) scale(1 -0.0419)"/><g class="gt"><path d="M243.2 519.3c9.7-55 19.3-94.5 29-96.5s19.3 32.9 29 80.2s19.3 103.3 29 133.7s19.3 33.6 29 10.5s19.3-70.3 29-111.1s19.3-72.3 28.9-76.7s19.3 18 29 51s19.3 74 29 97.9s19.3 29.2 29 14.9s19.3-46.9 29-76.3s19.3-53.7 29-59.1s19.3 8 29 30.2s19.3 51.2 29 69.3s19.3 24.1 29 16s19.3-29.3 29-49.6s19.3-38.2 28.9-43.6s19.3 1.7 29 15.5s19.3 33.1 29 46s19.3 18.6 29 14.9s19.3-16.1 29-28.8s19.3-24.7 29-29.5s19.3-2.2 29 5s19.3 18.2 29 26.2s19.3 12.8 29 12.3s19.3-5.7 29-11.8s19.3-12.7 28.9-16.3s19.3-4.2 29-2.6s19.3 5.2 29 8.5s19.3 6.4 29 8.3s19.3 2.7 29 2.7"/></g><use href="#cb" class="o1" transform="translate(0 552.5) scale(1 0.0838)"/><g class="gt"><path d="M243.2 510.5c9.7-53.8 19.3-89.7 29-88.1s19.3 39.9 29 88.3s19.3 103 29 130.9s19.3 27.4 29 1.7s19.3-74 29-114s19.3-68.8 28.9-70.5s19.3 23.3 29 57.3s19.3 74.2 29 96.2s19.3 24.6 29 8.2s19.3-49.9 29-78.9s19.3-51.3 29-54.6s19.3 12.2 29 35.3s19.3 51.7 29 68.4s19.3 20.4 29 10.7s19.3-32 29-52s19.3-36.5 28.9-40.2s19.3 5.2 29 19.8s19.3 33.7 29 45.5s19.3 15.6 29 10.6s19.3-18.3 29-30.9s19.3-23.5 29-26.9s19.3 .8 29 8.7s19.3 18.8 29 26s19.3 10.3 29 8.6s19.3-7.8 29-13.9s19.3-11.7 28.9-14s19.3-1.5 29 .8s19.3 5.9 29 8.5s19.3 4.1 29 4.8s19.3 .7 29 .7"/></g><use href="#cb" class="o1" transform="translate(0 552.5) scale(1 0.2091)"/><g class="gt"><path d="M243.2 501.8c9.7-52.3 19.3-84.4 29-79.2s19.3 46.6 29 95.9s19.3 102.5 29 127.7s19.3 21 29-7.1s19.3-77.4 29-116.5s19.3-65.2 28.9-64.1s19.3 28.6 29 63.4s19.3 74.3 29 94.3s19.3 19.6 29 1.3s19.3-52.8 29-81.2s19.3-48.8 29-49.9s19.3 16.5 29 40.4s19.3 51.9 29 67.1s19.3 16.8 29 5.4s19.3-34.4 29-54.1s19.3-34.7 28.9-36.7s19.3 8.6 29 24s19.3 34.1 29 44.8s19.3 12.7 29 6.3s19.3-20.5 29-32.9s19.3-22.2 29-24.2s19.3 3.8 29 12.4s19.3 19.3 29 25.6s19.3 7.8 29 4.9s19.3-9.8 29-15.8s19.3-10.6 28.9-11.7s19.3 1.1 29 4.1s19.3 6.6 29 8.4s19.3 1.9 29 1.4s19.3-1.3 29-1.3"/></g><use href="#cb" class="o1" transform="translate(0 552.5) scale(1 0.3335)"/><g class="gt"><path d="M243.2 493.4c9.7-50.6 19.3-78.9 29-70.1s19.3 53.3 29 103.2s19.3 101.6 29 124s19.3 14.4 29-16s19.3-80.5 29-118.5s19.3-61.2 28.9-57.4s19.3 33.8 29 69.3s19.3 73.9 29 91.9s19.3 14.7 29-5.5s19.3-55.5 29-83.2s19.3-46 29-45s19.3 20.7 29 45.2s19.3 52 29 65.7s19.3 13 29 .1s19.3-36.8 29-56.1s19.3-32.7 28.9-33s19.3 12 29 28s19.3 34.5 29 44s19.3 9.8 29 2s19.3-22.7 29-34.9s19.3-20.7 29-21.2s19.3 6.6 29 15.9s19.3 19.8 29 25.2s19.3 5.3 29 1.2s19.3-11.9 29-17.8s19.3-9.4 28.9-9.3s19.3 3.8 29 7.5s19.3 7.2 29 8.2s19.3-.2 29-1.9s19.3-3.4 29-3.4"/></g><use href="#cb" class="o1" transform="translate(0 552.5) scale(1 0.4567)"/><g class="gt"><path d="M243.2 485.2c9.7-48.8 19.3-73.1 29-60.7s19.3 59.7 29 110.1s19.3 100.2 29 119.7s19.3 7.9 29-24.7s19.3-83.3 29-120.1s19.3-57 28.9-50.5s19.3 38.9 29 75s19.3 73.2 29 89.1s19.3 9.8 29-12.2s19.3-58 29-84.9s19.3-43 29-39.9s19.3 24.8 29 49.9s19.3 51.8 29 63.9s19.3 9.2 29-5.3s19.3-39 29-57.8s19.3-30.6 28.9-29.2s19.3 15.5 29 32.1s19.3 34.5 29 42.8s19.3 6.8 29-2.3s19.3-24.7 29-36.6s19.3-19.2 29-18.3s19.3 9.5 29 19.4s19.3 20.3 29 24.7s19.3 2.8 29-2.5s19.3-13.9 29-19.6s19.3-8.3 28.9-6.9s19.3 6.4 29 10.8s19.3 7.7 29 8s19.3-2.4 29-5.3s19.3-5.4 29-5.4"/></g><use href="#cb" class="o1" transform="translate(0 552.5) scale(1 0.5781)"/><g class="gt"><path d="M243.2 477.2c9.7-46.7 19.3-66.8 29-50.9s19.3 65.7 29 116.4s19.3 98.5 29 115.1s19.3 1.3 29-33.4s19.3-85.8 29-121.2s19.3-52.6 28.9-43.4s19.3 43.9 29 80.4s19.3 72.2 29 85.9s19.3 4.9 29-18.9s19.3-60.3 29-86.3s19.3-39.8 29-34.6s19.3 28.8 29 54.4s19.3 51.4 29 61.9s19.3 5.3 29-10.6s19.3-41.1 29-59.3s19.3-28.3 28.9-25.2s19.3 18.6 29 35.8s19.3 34.6 29 41.7s19.3 3.7 29-6.7s19.3-26.7 29-38.2s19.3-17.5 29-15.2s19.3 12.3 29 22.8s19.3 20.5 29 24s19.3 .3 29-6.2s19.3-15.7 29-21.3s19.3-7.2 28.9-4.6s19.3 9 29 14.1s19.3 8.4 29 7.9s19.3-4.7 29-8.7s19.3-7.4 29-7.4"/></g><use href="#cb" class="o1" transform="translate(0 552.5) scale(1 0.6971)"/><g class="gt"><path d="M243.2 469.6c9.7-44.5 19.3-60.4 29-41.1s19.3 71.6 29 122.4s19.3 96.4 29 109.9s19.3-5.2 29-41.8s19.3-88 29-121.9s19.3-48 28.9-36.1s19.3 48.6 29 85.4s19.3 71 29 82.5s19.3-.2 29-25.6s19.3-62.2 29-87.2s19.3-36.6 29-29.3s19.3 32.6 29 58.6s19.3 50.8 29 59.7s19.3 1.5 29-15.8s19.3-43 29-60.6s19.3-25.9 28.9-21.2s19.3 21.9 29 39.6s19.3 34.3 29 40.2s19.3 .7 29-10.9s19.3-28.5 29-39.7s19.3-15.9 29-12.2s19.3 15.1 29 26.2s19.3 20.8 29 23.3s19.3-2.2 29-9.9s19.3-17.6 29-23s19.3-5.9 28.9-2.1s19.3 11.6 29 17.3s19.3 8.9 29 7.6s19.3-6.8 29-12s19.3-9.4 29-9.4"/></g><use href="#cb" class="o1" transform="translate(0 552.5) scale(1 0.8135)"/><g class="gt"><path d="M243.2 462.3c9.7-42 19.3-53.7 29-31.1s19.3 77.2 29 127.9s19.3 93.8 29 104.3s19.3-11.8 29-50.2s19.3-89.7 29-121.9s19.3-43.3 28.9-28.8s19.3 53.1 29 90.1s19.3 69.6 29 78.8s19.3-5.3 29-32.2s19.3-64 29-87.9s19.3-33.2 29-23.8s19.3 36.4 29 62.7s19.3 50 29 57.2s19.3-2.5 29-21.1s19.3-44.6 29-61.5s19.3-23.5 28.9-17.1s19.3 25 29 43.1s19.3 34.1 29 38.7s19.3-2.4 29-15.2s19.3-30.2 29-41s19.3-14.1 29-9s19.3 17.9 29 29.5s19.3 20.8 29 22.3s19.3-4.6 29-13.4s19.3-19.4 29-24.6s19.3-4.8 28.9 .3s19.3 14.2 29 20.5s19.3 9.4 29 7.3s19.3-9 29-15.3s19.3-11.3 29-11.3"/></g><use href="#cb" class="o1" transform="translate(0 552.5) scale(1 0.9266)"/><g class="gt"><path d="M243.2 455.3c9.7-39.4 19.3-46.8 29-20.9s19.3 82.5 29 132.9s19.3 90.9 29 98.3s19.3-18.3 29-58.4s19.3-91.2 29-121.6s19.3-38.3 28.9-21.2s19.3 57.5 29 94.4s19.3 67.8 29 74.7s19.3-10.3 29-38.6s19.3-65.5 29-88.2s19.3-29.6 29-18.2s19.3 40 29 66.5s19.3 49.1 29 54.5s19.3-6.3 29-26.2s19.3-46.3 29-62.4s19.3-20.8 28.9-12.8s19.3 28 29 46.4s19.3 33.8 29 37.1s19.3-5.4 29-19.4s19.3-31.9 29-42.2s19.3-12.3 29-5.9s19.3 20.7 29 32.7s19.3 20.9 29 21.4s19.3-7.1 29-17s19.3-21.1 29-26.1s19.3-3.6 28.9 2.7s19.3 16.7 29 23.6s19.3 9.8 29 7s19.3-11.1 29-18.5s19.3-13.2 29-13.2"/></g><use href="#cb" class="o1" transform="translate(0 552.5) scale(1 1.0361)"/><g class="gt"><path d="M243.2 448.7c9.7-36.7 19.3-39.8 29-10.7s19.3 87.5 29 137.4s19.3 87.7 29 91.9s19.3-24.8 29-66.3s19.3-92.2 29-120.7s19.3-33.1 28.9-13.6s19.3 61.5 29 98.3s19.3 65.8 29 70.3s19.3-15.1 29-44.8s19.3-66.8 29-88.2s19.3-25.9 29-12.5s19.3 43.3 29 69.9s19.3 48 29 51.7s19.3-10.2 29-31.3s19.3-47.5 29-62.8s19.3-18.3 28.9-8.7s19.3 31 29 49.7s19.3 33.2 29 35.2s19.3-8.6 29-23.6s19.3-33.3 29-43.1s19.3-10.5 29-2.7s19.3 23.3 29 35.7s19.3 20.9 29 20.4s19.3-9.5 29-20.5s19.3-22.7 29-27.5s19.3-2.3 28.9 5.1s19.3 19.1 29 26.6s19.3 10.3 29 6.7s19.3-13.1 29-21.6s19.3-15.1 29-15.1"/></g><use href="#cb" class="o1" transform="translate(0 552.5) scale(1 1.1414)"/><g class="gt"><path d="M243.2 442.5c9.7-33.8 19.3-32.5 29-.4s19.3 92.2 29 141.4s19.3 84 29 85.1s19.3-31.1 29-74s19.3-92.9 29-119.4s19.3-27.9 28.9-5.9s19.3 65.4 29 101.9s19.3 63.4 29 65.6s19.3-20.1 29-50.9s19.3-67.7 29-87.8s19.3-22.2 29-6.8s19.3 46.6 29 73.2s19.3 46.6 29 48.5s19.3-13.9 29-36.1s19.3-48.8 29-63.2s19.3-15.6 28.9-4.4s19.3 33.8 29 52.7s19.3 32.5 29 33.2s19.3-11.5 29-27.6s19.3-34.7 29-43.9s19.3-8.6 29 .5s19.3 25.7 29 38.5s19.3 20.8 29 19.4s19.3-12 29-24s19.3-24.3 29-28.8s19.3-1 28.9 7.6s19.3 21.3 29 29.4s19.3 10.7 29 6.4s19.3-15.2 29-24.7s19.3-16.9 29-16.9"/></g><use href="#cb" class="o1" transform="translate(0 552.5) scale(1 1.2423)"/><g class="gt"><path d="M243.2 436.8c9.7-30.8 19.3-25.2 29 9.9s19.3 96.4 29 144.7s19.3 80.1 29 78s19.3-37.3 29-81.3s19.3-93.3 29-117.7s19.3-22.5 28.9 1.8s19.3 69 29 105s19.3 61 29 60.8s19.3-24.9 29-56.8s19.3-68.5 29-87.1s19.3-18.2 29-1s19.3 49.6 29 76.1s19.3 45 29 45.2s19.3-17.7 29-40.9s19.3-49.8 29-63.2s19.3-12.8 28.9-.1s19.3 36.5 29 55.5s19.3 31.8 29 31.1s19.3-14.5 29-31.5s19.3-35.9 29-44.6s19.3-6.6 29 3.8s19.3 28.1 29 41.2s19.3 20.6 29 18.2s19.3-14.5 29-27.4s19.3-25.6 29-29.9s19.3 .2 28.9 9.9s19.3 23.6 29 32.2s19.3 11 29 6s19.3-17.1 29-27.6s19.3-18.6 29-18.6"/></g><use href="#cb" class="o1" transform="translate(0 552.5) scale(1 1.3383)"/><g class="gt"><path d="M243.2 431.5c9.7-27.6 19.3-17.8 29 20.1s19.3 100.3 29 147.5s19.3 76 29 70.7s19.3-43.4 29-88.4s19.3-93.2 29-115.4s19.3-17.1 28.9 9.4s19.3 72.3 29 107.8s19.3 58.1 29 55.6s19.3-29.6 29-62.5s19.3-68.9 29-86s19.3-14.3 29 4.7s19.3 52.6 29 78.8s19.3 43.3 29 41.7s19.3-21.4 29-45.5s19.3-50.5 29-62.9s19.3-10 28.9 4.2s19.3 39 29 58s19.3 30.9 29 28.9s19.3-17.4 29-35.3s19.3-36.9 29-45s19.3-4.7 29 6.9s19.3 30.3 29 43.7s19.3 20.4 29 17s19.3-16.6 29-30.5s19.3-27 29-31s19.3 1.5 28.9 12.2s19.3 25.8 29 34.8s19.3 11.3 29 5.6s19.3-18.9 29-30.4s19.3-20.3 29-20.3"/></g><use href="#cb" class="o1" transform="translate(0 552.5) scale(1 1.4289)"/><g class="gt"><path d="M243.2 426.7c9.7-24.4 19.3-10.2 29 30.3s19.3 103.8 29 149.7s19.3 71.4 29 63s19.3-49.3 29-95.1s19.3-92.8 29-112.7s19.3-11.5 28.9 17.1s19.3 75.4 29 110.1s19.3 55.1 29 50.2s19.3-34.2 29-67.9s19.3-69.1 29-84.6s19.3-10.4 29 10.4s19.3 55.3 29 81.2s19.3 41.4 29 38s19.3-25 29-49.9s19.3-51.1 29-62.5s19.3-7.1 28.9 8.5s19.3 41.3 29 60.3s19.3 29.9 29 26.6s19.3-20.2 29-39s19.3-37.8 29-45.2s19.3-2.8 29 10s19.3 32.5 29 46.1s19.3 20.1 29 15.7s19.3-19 29-33.7s19.3-28.2 29-31.9s19.3 2.9 28.9 14.6s19.3 27.8 29 37.3s19.3 11.6 29 5.2s19.3-20.8 29-33.2s19.3-21.9 29-21.9"/></g><use href="#cb" class="o1" transform="translate(0 552.5) scale(1 1.5140)"/><g class="gt"><path d="M243.2 422.4c9.7-21 19.3-2.7 29 40.3s19.3 106.9 29 151.4s19.3 66.5 29 55s19.3-55 29-101.4s19.3-92.1 29-109.6s19.3-6 28.9 24.7s19.3 78.1 29 112s19.3 51.8 29 44.6s19.3-38.6 29-73s19.3-69 29-82.9s19.3-6.2 29 16.2s19.3 57.6 29 83.1s19.3 39.3 29 34.2s19.3-28.4 29-54.1s19.3-51.6 29-61.8s19.3-4.3 28.9 12.7s19.3 43.6 29 62.5s19.3 28.7 29 24.1s19.3-23 29-42.5s19.3-38.6 29-45.3s19.3-.7 29 13.2s19.3 34.5 29 48.3s19.3 19.6 29 14.3s19.3-21.2 29-36.7s19.3-29.4 29-32.7s19.3 4.1 28.9 16.8s19.3 29.8 29 39.7s19.3 11.8 29 4.7s19.3-22.5 29-35.8s19.3-23.3 29-23.3"/></g><use href="#cb" class="o1" transform="translate(0 552.5) scale(1 1.5931)"/><g class="gt"><path d="M243.2 418.6c9.7-17.6 19.3 4.9 29 50.2s19.3 109.6 29 152.4s19.3 61.5 29 46.9s19.3-60.6 29-107.4s19.3-90.9 29-106s19.3-.3 28.9 32.2s19.3 80.5 29 113.4s19.3 48.4 29 38.9s19.3-43 29-77.9s19.3-68.5 29-80.7s19.3-2.3 29 21.7s19.3 59.9 29 84.8s19.3 37.1 29 30.3s19.3-31.8 29-58.1s19.3-51.7 29-60.8s19.3-1.4 28.9 16.9s19.3 45.6 29 64.3s19.3 27.4 29 21.5s19.3-25.6 29-45.8s19.3-39.2 29-45.2s19.3 1.2 29 16.2s19.3 36.4 29 50.3s19.3 19.1 29 12.9s19.3-23.3 29-39.5s19.3-30.4 29-33.4s19.3 5.3 28.9 19s19.3 31.7 29 41.9s19.3 11.9 29 4.2s19.3-24.1 29-38.2s19.3-24.7 29-24.7"/></g><use href="#cb" class="o1" transform="translate(0 552.5) scale(1 1.6658)"/><g class="gt"><path d="M243.2 415.3c9.7-14.1 19.3 12.5 29 59.9s19.3 111.8 29 152.8s19.3 56.2 29 38.6s19.3-65.8 29-112.9s19.3-89.4 29-102s19.3 5.2 28.9 39.5s19.3 82.8 29 114.5s19.3 44.8 29 33s19.3-47.2 29-82.5s19.3-67.9 29-78.3s19.3 1.8 29 27.2s19.3 61.9 29 86.2s19.3 34.8 29 26.3s19.3-35.1 29-61.9s19.3-51.8 29-59.7s19.3 1.5 28.9 21s19.3 47.6 29 66s19.3 26 29 18.9s19.3-28.2 29-49s19.3-39.7 29-45s19.3 3.1 29 19.2s19.3 38.3 29 52.2s19.3 18.5 29 11.4s19.3-25.2 29-42.1s19.3-31.3 29-34s19.3 6.6 28.9 21.1s19.3 33.2 29 43.8s19.3 12.1 29 3.8s19.3-25.6 29-40.5s19.3-26 29-26"/></g><use href="#cb" class="o1" transform="translate(0 552.5) scale(1 1.7321)"/><g class="gt"><path d="M243.2 412.6c9.7-10.5 19.3 19.9 29 69.3s19.3 113.6 29 152.7s19.3 50.5 29 30s19.3-70.8 29-117.9s19.3-87.6 29-97.6s19.3 10.8 28.9 46.7s19.3 84.5 29 115s19.3 41 29 27s19.3-51.1 29-86.7s19.3-67.1 29-75.7s19.3 6 29 32.8s19.3 63.6 29 87.2s19.3 32.2 29 22s19.3-38.2 29-65.4s19.3-51.5 29-58.2s19.3 4.5 28.9 25.1s19.3 49.1 29 67.2s19.3 24.5 29 16.2s19.3-30.6 29-51.9s19.3-40 29-44.6s19.3 5.2 29 22.2s19.3 39.8 29 53.7s19.3 17.9 29 9.9s19.3-27.1 29-44.6s19.3-32.1 29-34.4s19.3 7.8 28.9 23.1s19.3 34.9 29 45.7s19.3 12.2 29 3.3s19.3-27.1 29-42.7s19.3-27.2 29-27.2"/></g><use href="#cb" class="o1" transform="translate(0 552.5) scale(1 1.7914)"/><g class="gt"><path d="M243.2 410.4c9.7-6.9 19.3 27.4 29 78.5s19.3 114.9 29 151.9s19.3 44.7 29 21.4s19.3-75.5 29-122.5s19.3-85.3 29-92.7s19.3 16.3 28.9 53.7s19.3 86 29 115.1s19.3 37 29 20.8s19.3-54.9 29-90.6s19.3-65.9 29-72.7s19.3 10 29 38.1s19.3 65.1 29 87.8s19.3 29.7 29 17.9s19.3-41.2 29-68.7s19.3-51.1 29-56.6s19.3 7.3 28.9 29s19.3 50.6 29 68.3s19.3 23 29 13.5s19.3-33 29-54.7s19.3-40.2 29-44s19.3 7.1 29 25s19.3 41.4 29 55.2s19.3 17.1 29 8.3s19.3-28.9 29-47s19.3-32.7 29-34.6s19.3 8.9 28.9 25s19.3 36.3 29 47.4s19.3 12.2 29 2.8s19.3-28.5 29-44.7s19.3-28.3 29-28.3"/></g><use href="#cb" class="o1" transform="translate(0 552.5) scale(1 1.8437)"/><g class="gt"><path d="M243.2 408.8c9.7-3.3 19.3 34.7 29 87.4s19.3 115.7 29 150.4s19.3 38.9 29 12.8s19.3-79.9 29-126.6s19.3-82.8 29-87.6s19.3 21.7 28.9 60.5s19.3 87.1 29 114.7s19.3 32.9 29 14.6s19.3-58.4 29-94.1s19.3-64.5 29-69.4s19.3 14 29 43.2s19.3 66.4 29 88.2s19.3 26.9 29 13.5s19.3-44 29-71.7s19.3-50.5 29-54.7s19.3 10.3 28.9 32.9s19.3 51.9 29 69.1s19.3 21.3 29 10.6s19.3-35.1 29-57.2s19.3-40.2 29-43.2s19.3 9.1 29 27.8s19.3 42.6 29 56.3s19.3 16.3 29 6.7s19.3-30.6 29-49.1s19.3-33.2 29-34.8s19.3 10 28.9 26.8s19.3 37.6 29 48.9s19.3 12.2 29 2.3s19.3-29.7 29-46.5s19.3-29.2 29-29.2"/></g><use href="#cb" class="o1" transform="translate(0 552.5) scale(1 1.8888)"/><g class="gt"><path d="M243.2 407.8c9.7 .4 19.3 41.9 29 95.9s19.3 116.1 29 148.4s19.3 32.8 29 4.1s19.3-84 29-130.2s19.3-80.1 29-82.2s19.3 27.2 28.9 67.1s19.3 87.9 29 113.9s19.3 28.7 29 8.4s19.3-61.7 29-97.3s19.3-62.8 29-65.8s19.3 17.8 29 48.1s19.3 67.4 29 88.2s19.3 24 29 9.1s19.3-46.6 29-74.4s19.3-49.7 29-52.6s19.3 13.1 28.9 36.6s19.3 52.9 29 69.6s19.3 19.6 29 7.8s19.3-37.1 29-59.5s19.3-40.1 29-42.3s19.3 10.9 29 30.4s19.3 43.7 29 57.3s19.3 15.5 29 5.1s19.3-32.2 29-51.1s19.3-33.5 29-34.7s19.3 11.1 28.9 28.5s19.3 38.7 29 50.1s19.3 12.1 29 1.8s19.3-30.8 29-48.1s19.3-30.1 29-30.1"/></g><use href="#cb" class="o1" transform="translate(0 552.5) scale(1 1.9263)"/><g class="gt"><path d="M243.2 407.3c9.7 4 19.3 48.9 29 104s19.3 116.2 29 146s19.3 26.5 29-4.8s19.3-87.8 29-133.3s19.3-76.8 29-76.3s19.3 32.4 28.9 73.4s19.3 88.3 29 112.6s19.3 24.4 29 2.1s19.3-64.8 29-100.1s19.3-60.8 29-62s19.3 21.8 29 53s19.3 68 29 87.8s19.3 21.1 29 4.7s19.3-49.1 29-76.9s19.3-48.5 29-50.2s19.3 15.8 28.9 40.1s19.3 53.8 29 69.9s19.3 17.7 29 4.8s19.3-39.1 29-61.6s19.3-39.7 29-41.1s19.3 12.7 29 32.9s19.3 44.7 29 58s19.3 14.6 29 3.5s19.3-33.7 29-52.9s19.3-33.8 29-34.6s19.3 12.1 28.9 30.1s19.3 39.8 29 51.3s19.3 12 29 1.3s19.3-31.8 29-49.6s19.3-30.8 29-30.8"/></g><use href="#cb" class="o1" transform="translate(0 552.5) scale(1 1.9563)"/><g class="gt"><path d="M243.2 407.4c9.7 7.6 19.3 55.7 29 111.7s19.3 115.7 29 142.8s19.3 20.3 29-13.4s19.3-91.2 29-135.9s19.3-73.4 29-70.2s19.3 37.6 28.9 79.4s19.3 88.5 29 111s19.3 19.8 29-4.3s19.3-67.6 29-102.5s19.3-58.6 29-57.9s19.3 25.5 29 57.5s19.3 68.5 29 87.1s19.3 18.1 29 .3s19.3-51.4 29-79s19.3-47.3 29-47.7s19.3 18.5 28.9 43.5s19.3 54.5 29 69.9s19.3 15.8 29 1.9s19.3-40.8 29-63.4s19.3-39.3 29-39.9s19.3 14.5 29 35.3s19.3 45.4 29 58.5s19.3 13.6 29 1.8s19.3-34.9 29-54.4s19.3-33.9 29-34.3s19.3 13.1 28.9 31.6s19.3 40.6 29 52.2s19.3 11.8 29 .7s19.3-32.7 29-50.8s19.3-31.4 29-31.4"/></g><use href="#cb" class="o1" transform="translate(0 552.5) scale(1 1.9785)"/><g class="gt"><path d="M243.2 408.1c9.7 11.2 19.3 62.3 29 119s19.3 114.7 29 139.1s19.3 13.9 29-22.1s19.3-94.3 29-137.9s19.3-69.6 29-63.8s19.3 42.5 28.9 85s19.3 88.3 29 108.9s19.3 15.3 29-10.6s19.3-70.1 29-104.4s19.3-56.3 29-53.7s19.3 29.3 29 61.9s19.3 68.6 29 86s19.3 15 29-4.1s19.3-53.4 29-80.8s19.3-46 29-45.1s19.3 21.1 28.9 46.7s19.3 55 29 69.7s19.3 13.8 29-1s19.3-42.4 29-65s19.3-38.6 29-38.4s19.3 16.2 29 37.5s19.3 46 29 58.7s19.3 12.6 29 .2s19.3-36 29-55.7s19.3-33.9 29-33.9s19.3 14 28.9 32.9s19.3 41.3 29 52.9s19.3 11.5 29 .1s19.3-33.4 29-51.8s19.3-31.9 29-31.9"/></g><use href="#cb" class="o1" transform="translate(0 552.5) scale(1 1.9930)"/><g class="gt"><path d="M243.2 409.3c9.7 14.8 19.3 68.7 29 125.9s19.3 113.3 29 134.8s19.3 7.4 29-30.7s19.3-97 29-139.4s19.3-65.5 29-57.1s19.3 47.3 28.9 90.4s19.3 87.5 29 106.2s19.3 10.8 29-16.8s19.3-72.4 29-106s19.3-53.6 29-49.1s19.3 32.8 29 66s19.3 68.5 29 84.6s19.3 11.8 29-8.6s19.3-55.1 29-82.2s19.3-44.4 29-42.2s19.3 23.6 28.9 49.7s19.3 55.2 29 69.1s19.3 11.9 29-3.9s19.3-43.9 29-66.4s19.3-37.8 29-36.8s19.3 17.9 29 39.6s19.3 46.5 29 58.8s19.3 11.5 29-1.5s19.3-37.1 29-56.8s19.3-33.7 29-33.4s19.3 15 28.9 34.2s19.3 41.7 29 53.3s19.3 11.3 29-.4s19.3-33.9 29-52.6s19.3-32.3 29-32.3"/></g><use href="#cb" class="o1" transform="translate(0 552.5) scale(1 1.9996)"/><g class="gt"><path d="M243.2 411.1c9.7 18.3 19.3 74.8 29 132.2s19.3 111.5 29 130.1s19.3 .9 29-39.2s19.3-99.3 29-140.4s19.3-61.2 29-50.2s19.3 52 28.9 95.4s19.3 86.6 29 103.2s19.3 6.1 29-23s19.3-74.3 29-107.1s19.3-50.9 29-44.5s19.3 36.3 29 69.9s19.3 68.2 29 82.9s19.3 8.7 29-12.9s19.3-56.9 29-83.5s19.3-42.6 29-39.1s19.3 26 28.9 52.5s19.3 55.1 29 68.2s19.3 9.9 29-6.7s19.3-45.2 29-67.5s19.3-36.8 29-35s19.3 19.5 29 41.5s19.3 46.7 29 58.6s19.3 10.3 29-3.2s19.3-37.9 29-57.7s19.3-33.3 29-32.6s19.3 15.7 28.9 35.2s19.3 42.1 29 53.6s19.3 11 29-.9s19.3-34.4 29-53.2s19.3-32.6 29-32.6"/></g><use href="#cb" class="o1" transform="translate(0 552.5) scale(1 1.9982)"/><g class="gt"><path d="M243.2 413.5c9.7 21.7 19.3 80.6 29 138s19.3 109.1 29 124.7s19.3-5.6 29-47.5s19.3-101.2 29-140.7s19.3-56.7 29-43.2s19.3 56.5 28.9 100.1s19.3 85.3 29 99.8s19.3 1.5 29-29.1s19.3-76.1 29-107.9s19.3-47.7 29-39.5s19.3 39.6 29 73.4s19.3 67.5 29 80.8s19.3 5.5 29-17.2s19.3-58.3 29-84.3s19.3-40.8 29-36s19.3 28.4 28.9 55.2s19.3 54.9 29 67.1s19.3 7.8 29-9.6s19.3-46.3 29-68.3s19.3-35.8 29-33.2s19.3 21.1 29 43.4s19.3 46.7 29 58.1s19.3 9.2 29-4.8s19.3-38.6 29-58.3s19.3-33 29-31.9s19.3 16.5 28.9 36.2s19.3 42.2 29 53.6s19.3 10.7 29-1.4s19.3-34.7 29-53.6s19.3-32.7 29-32.7"/></g><use href="#cb" class="o1" transform="translate(0 552.5) scale(1 1.9890)"/><g class="gt"><path d="M243.2 416.4c9.7 25 19.3 86 29 143.2s19.3 106.5 29 119s19.3-12 29-55.6s19.3-102.8 29-140.6s19.3-51.9 29-35.9s19.3 60.7 28.9 104.3s19.3 83.6 29 96s19.3-3.2 29-35.1s19.3-77.4 29-108.1s19.3-44.6 29-34.6s19.3 42.7 29 76.7s19.3 66.7 29 78.5s19.3 2.2 29-21.5s19.3-59.4 29-84.8s19.3-38.7 29-32.7s19.3 30.8 28.9 57.7s19.3 54.5 29 65.7s19.3 5.6 29-12.5s19.3-47.1 29-68.8s19.3-34.4 29-31.1s19.3 22.4 29 44.9s19.3 46.6 29 57.5s19.3 7.9 29-6.5s19.3-39.2 29-58.7s19.3-32.5 29-31s19.3 17.2 28.9 37s19.3 42.3 29 53.5s19.3 10.4 29-1.9s19.3-35 29-53.9s19.3-32.6 29-32.6"/></g><use href="#cb" class="o1" transform="translate(0 552.5) scale(1 1.9720)"/><g class="gt"><path d="M243.2 419.8c9.7 28.3 19.3 91.2 29 148s19.3 103.3 29 112.7s19.3-18.4 29-63.5s19.3-103.9 29-139.9s19.3-47 29-28.5s19.3 64.6 28.9 108.1s19.3 81.7 29 91.9s19.3-7.9 29-41s19.3-78.5 29-108s19.3-41.2 29-29.4s19.3 45.7 29 79.7s19.3 65.4 29 75.7s19.3-1 29-25.6s19.3-60.4 29-85s19.3-36.4 29-29.2s19.3 32.9 28.9 59.9s19.3 53.8 29 64s19.3 3.5 29-15.2s19.3-47.9 29-69.1s19.3-33.1 29-29s19.3 23.8 29 46.3s19.3 46.2 29 56.6s19.3 6.8 29-8s19.3-39.7 29-59s19.3-31.7 29-29.8s19.3 17.8 28.9 37.6s19.3 42.2 29 53.2s19.3 9.9 29-2.5s19.3-35.1 29-53.9s19.3-32.5 29-32.5"/></g><use href="#cb" class="o1" transform="translate(0 552.5) scale(1 1.9472)"/><g class="gt"><path d="M243.2 423.8c9.7 31.4 19.3 95.9 29 152s19.3 99.9 29 106.1s19.3-24.8 29-71.2s19.3-104.6 29-138.6s19.3-41.8 29-21s19.3 68.3 28.9 111.5s19.3 79.4 29 87.3s19.3-12.5 29-46.7s19.3-79.2 29-107.4s19.3-37.6 29-24.1s19.3 48.6 29 82.4s19.3 64 29 72.7s19.3-4.3 29-29.7s19.3-61 29-84.8s19.3-34 29-25.6s19.3 34.8 28.9 61.8s19.3 53 29 62.2s19.3 1.2 29-18.1s19.3-48.3 29-69s19.3-31.7 29-26.8s19.3 25.1 29 47.6s19.3 45.7 29 55.5s19.3 5.5 29-9.6s19.3-39.9 29-58.9s19.3-30.9 29-28.7s19.3 18.5 28.9 38.2s19.3 41.8 29 52.5s19.3 9.4 29-3s19.3-34.9 29-53.6s19.3-32.2 29-32.2"/></g><use href="#cb" class="o1" transform="translate(0 552.5) scale(1 1.9146)"/><g class="gt"><path d="M243.2 428.3c9.7 34.4 19.3 100.3 29 155.5s19.3 95.9 29 99s19.3-31 29-78.6s19.3-104.9 29-136.8s19.3-36.5 29-13.4s19.3 71.7 28.9 114.4s19.3 76.9 29 82.5s19.3-17.1 29-52.2s19.3-79.8 29-106.5s19.3-33.9 29-18.7s19.3 51.1 29 84.7s19.3 62.4 29 69.5s19.3-7.6 29-33.7s19.3-61.5 29-84.3s19.3-31.5 29-21.9s19.3 36.6 28.9 63.5s19.3 52 29 60.1s19.3-.9 29-20.7s19.3-48.7 29-68.8s19.3-30 29-24.4s19.3 26.3 29 48.7s19.3 45 29 54.1s19.3 4.3 29-11.1s19.3-40.1 29-58.7s19.3-30 29-27.4s19.3 18.9 28.9 38.5s19.3 41.4 29 51.8s19.3 8.9 29-3.5s19.3-34.6 29-53.1s19.3-31.8 29-31.8"/></g><use href="#cb" class="o1" transform="translate(0 552.5) scale(1 1.8746)"/><g class="gt"><path d="M243.2 433.3c9.7 37.3 19.3 104.3 29 158.4s19.3 91.5 29 91.4s19.3-37.1 29-85.6s19.3-104.7 29-134.4s19.3-31 29-5.8s19.3 74.9 28.9 116.9s19.3 74 29 77.3s19.3-21.6 29-57.5s19.3-79.9 29-105.1s19.3-30 29-13.2s19.3 53.5 29 86.7s19.3 60.4 29 65.9s19.3-10.8 29-37.5s19.3-61.7 29-83.5s19.3-28.8 29-18.1s19.3 38.3 28.9 64.9s19.3 50.7 29 57.7s19.3-3 29-23.2s19.3-48.8 29-68.2s19.3-28.3 29-22s19.3 27.3 29 49.5s19.3 44.2 29 52.6s19.3 2.9 29-12.6s19.3-39.9 29-58.1s19.3-29 29-26.1s19.3 19.4 28.9 38.8s19.3 40.7 29 50.8s19.3 8.3 29-4s19.3-34.3 29-52.5s19.3-31.3 29-31.3"/></g><use href="#cb" class="o1" transform="translate(0 552.5) scale(1 1.8271)"/><g class="gt"><path d="M243.2 438.7c9.7 40 19.3 107.9 29 160.7s19.3 86.9 29 83.6s19.3-43.1 29-92.4s19.3-104.2 29-131.5s19.3-25.5 29 1.8s19.3 77.8 28.9 119s19.3 70.7 29 71.7s19.3-26 29-62.5s19.3-79.7 29-103.2s19.3-26.1 29-7.8s19.3 55.7 29 88.4s19.3 58.2 29 62.1s19.3-14 29-41.2s19.3-61.7 29-82.3s19.3-26.1 29-14.3s19.3 39.8 28.9 66.1s19.3 49.2 29 55.1s19.3-5.2 29-25.7s19.3-48.8 29-67.4s19.3-26.4 29-19.4s19.3 28.2 29 50.2s19.3 43.1 29 50.8s19.3 1.7 29-14s19.3-39.7 29-57.4s19.3-27.9 29-24.6s19.3 19.7 28.9 38.8s19.3 39.9 29 49.6s19.3 7.8 29-4.4s19.3-33.9 29-51.7s19.3-30.6 29-30.6"/></g><use href="#cb" class="o1" transform="translate(0 552.5) scale(1 1.7724)"/><g class="gt"><path d="M243.2 444.6c9.7 42.5 19.3 111 29 162.3s19.3 81.9 29 75.4s19.3-49 29-98.8s19.3-103.2 29-128s19.3-19.8 29 9.5s19.3 80.3 28.9 120.5s19.3 67.2 29 65.9s19.3-30.3 29-67.3s19.3-79.2 29-101s19.3-22.1 29-2.3s19.3 57.7 29 89.7s19.3 55.9 29 58.1s19.3-17.1 29-44.7s19.3-61.4 29-80.8s19.3-23.2 29-10.4s19.3 41.3 28.9 67.1s19.3 47.4 29 52.2s19.3-7.4 29-28.1s19.3-48.5 29-66.3s19.3-24.5 29-16.8s19.3 29 29 50.6s19.3 41.9 29 48.9s19.3 .3 29-15.4s19.3-39.3 29-56.4s19.3-26.6 29-23s19.3 19.9 28.9 38.7s19.3 39 29 48.3s19.3 7.2 29-4.9s19.3-33.2 29-50.6s19.3-29.9 29-29.9"/></g><use href="#cb" class="o1" transform="translate(0 552.5) scale(1 1.7107)"/><g class="gt"><path d="M243.2 450.9c9.7 44.9 19.3 113.7 29 163.3s19.3 76.6 29 66.9s19.3-54.5 29-104.7s19.3-101.9 29-124.2s19.3-14 29 17.1s19.3 82.7 28.9 121.7s19.3 63.5 29 59.9s19.3-34.6 29-72s19.3-78.4 29-98.4s19.3-17.8 29 3.4s19.3 59.4 29 90.6s19.3 53.3 29 53.8s19.3-20.2 29-48.1s19.3-60.9 29-79s19.3-20.2 29-6.4s19.3 42.5 28.9 67.7s19.3 45.7 29 49.3s19.3-9.5 29-30.4s19.3-48 29-64.9s19.3-22.5 29-14.2s19.3 29.7 29 50.9s19.3 40.6 29 46.8s19.3-1.1 29-16.8s19.3-38.8 29-55.2s19.3-25.2 29-21.3s19.3 20.2 28.9 38.5s19.3 37.8 29 46.6s19.3 6.6 29-5.3s19.3-32.5 29-49.4s19.3-28.9 29-28.9"/></g><use href="#cb" class="o1" transform="translate(0 552.5) scale(1 1.6423)"/><g class="gt"><path d="M243.2 457.6c9.7 47.1 19.3 116.1 29 163.7s19.3 70.9 29 58.1s19.3-59.9 29-110.3s19.3-100.1 29-119.7s19.3-8.3 29 24.6s19.3 84.6 28.9 122.3s19.3 59.5 29 53.6s19.3-38.6 29-76.2s19.3-77.3 29-95.4s19.3-13.7 29 8.8s19.3 61 29 91.3s19.3 50.5 29 49.3s19.3-23.1 29-51.2s19.3-60.1 29-76.9s19.3-17.3 29-2.5s19.3 43.6 28.9 68.2s19.3 43.6 29 46s19.3-11.5 29-32.5s19.3-47.4 29-63.3s19.3-20.4 29-11.5s19.3 30.4 29 51s19.3 39 29 44.4s19.3-2.3 29-18s19.3-38.1 29-53.8s19.3-23.7 29-19.5s19.3 20.2 28.9 38s19.3 36.6 29 44.9s19.3 5.9 29-5.7s19.3-31.6 29-47.9s19.3-27.9 29-27.9"/></g><use href="#cb" class="o1" transform="translate(0 552.5) scale(1 1.5674)"/><g class="gt"><path d="M243.2 464.7c9.7 49.2 19.3 117.9 29 163.4s19.3 64.9 29 49.1s19.3-65.1 29-115.4s19.3-98 29-114.9s19.3-2.4 29 32.1s19.3 86.1 28.9 122.4s19.3 55.3 29 47.1s19.3-42.4 29-80.1s19.3-76 29-92.1s19.3-9.3 29 14.4s19.3 62.2 29 91.5s19.3 47.4 29 44.6s19.3-26 29-54.1s19.3-59.2 29-74.5s19.3-14.2 29 1.4s19.3 44.6 28.9 68.4s19.3 41.4 29 42.6s19.3-13.6 29-34.6s19.3-46.5 29-61.4s19.3-18.2 29-8.7s19.3 30.9 29 50.9s19.3 37.3 29 41.9s19.3-3.6 29-19.2s19.3-37.3 29-52.2s19.3-22.2 29-17.7s19.3 20.2 28.9 37.5s19.3 35.2 29 43s19.3 5.2 29-6.1s19.3-30.6 29-46.3s19.3-26.8 29-26.8"/></g><use href="#cb" class="o1" transform="translate(0 552.5) scale(1 1.4863)"/><g class="gt"><path d="M243.2 472.1c9.7 51 19.3 119.3 29 162.5s19.3 58.7 29 39.9s19.3-70 29-120.1s19.3-95.4 29-109.5s19.3 3.5 29 39.4s19.3 87.4 28.9 122.1s19.3 50.9 29 40.4s19.3-46.2 29-83.8s19.3-74.2 29-88.3s19.3-5 29 19.8s19.3 63.2 29 91.4s19.3 44.2 29 39.7s19.3-28.8 29-56.9s19.3-57.9 29-71.7s19.3-11 29 5.4s19.3 45.2 28.9 68.2s19.3 39 29 39.1s19.3-15.6 29-36.5s19.3-45.6 29-59.4s19.3-15.8 29-5.8s19.3 31.2 29 50.5s19.3 35.5 29 39.3s19.3-4.9 29-20.3s19.3-36.3 29-50.4s19.3-20.4 29-15.7s19.3 20.1 28.9 36.7s19.3 33.6 29 40.9s19.3 4.5 29-6.5s19.3-29.4 29-44.4s19.3-25.6 29-25.6"/></g><use href="#cb" class="o1" transform="translate(0 552.5) scale(1 1.3993)"/><g class="gt"><path d="M243.2 479.9c9.7 52.6 19.3 120.1 29 160.9s19.3 52.4 29 30.6s19.3-74.6 29-124.3s19.3-92.6 29-103.8s19.3 9.3 29 46.6s19.3 88.3 28.9 121.2s19.3 46.3 29 33.6s19.3-49.9 29-87.2s19.3-72.2 29-84.2s19.3-.6 29 25.2s19.3 64 29 90.9s19.3 40.8 29 34.7s19.3-31.5 29-59.4s19.3-56.4 29-68.7s19.3-7.9 29 9.3s19.3 45.7 28.9 67.8s19.3 36.5 29 35.4s19.3-17.5 29-38.2s19.3-44.4 29-57s19.3-13.5 29-3s19.3 31.4 29 50s19.3 33.5 29 36.4s19.3-6.2 29-21.3s19.3-35.2 29-48.4s19.3-18.8 29-13.8s19.3 20.1 28.9 36s19.3 31.9 29 38.6s19.3 3.7 29-6.9s19.3-28.1 29-42.4s19.3-24.3 29-24.3"/></g><use href="#cb" class="o1" transform="translate(0 552.5) scale(1 1.3068)"/><g class="gt"><path d="M243.2 487.9c9.7 54.1 19.3 120.6 29 158.7s19.3 45.7 29 21.1s19.3-79 29-128s19.3-89.3 29-97.6s19.3 15.2 29 53.6s19.3 88.8 28.9 119.9s19.3 41.4 29 26.6s19.3-53.1 29-90.1s19.3-70 29-79.8s19.3 3.7 29 30.4s19.3 64.5 29 90.1s19.3 37.3 29 29.6s19.3-34 29-61.7s19.3-54.8 29-65.5s19.3-4.6 29 13.3s19.3 46.1 28.9 67.1s19.3 33.8 29 31.5s19.3-19.3 29-39.8s19.3-43 29-54.4s19.3-11.1 29-.2s19.3 31.6 29 49.3s19.3 31.3 29 33.4s19.3-7.4 29-22.2s19.3-34 29-46.2s19.3-16.9 29-11.7s19.3 19.7 28.9 34.9s19.3 30.1 29 36.2s19.3 3 29-7.2s19.3-26.8 29-40.2s19.3-22.9 29-22.9"/></g><use href="#cb" class="o1" transform="translate(0 552.5) scale(1 1.2092)"/><g class="gt"><path d="M243.2 496.2c9.7 55.3 19.3 120.4 29 155.8s19.3 39 29 11.6s19.3-83 29-131.2s19.3-85.6 29-91s19.3 20.9 29 60.4s19.3 89 28.9 118.1s19.3 36.3 29 19.4s19.3-56.3 29-92.7s19.3-67.3 29-75s19.3 8 29 35.6s19.3 64.7 29 88.8s19.3 33.6 29 24.3s19.3-36.4 29-63.7s19.3-52.8 29-61.9s19.3-1.4 29 17.1s19.3 46.3 28.9 66.2s19.3 31 29 27.5s19.3-21 29-41.2s19.3-41.5 29-51.7s19.3-8.6 29 2.7s19.3 31.5 29 48.3s19.3 29.2 29 30.4s19.3-8.6 29-23.1s19.3-32.6 29-43.8s19.3-15.1 29-9.7s19.3 19.6 28.9 33.9s19.3 28.2 29 33.6s19.3 2.3 29-7.4s19.3-25.4 29-38s19.3-21.3 29-21.3"/></g><use href="#cb" class="o1" transform="translate(0 552.5) scale(1 1.1068)"/><g class="gt"><path d="M243.2 504.8c9.7 56.3 19.3 119.8 29 152.3s19.3 32 29 2s19.3-86.7 29-133.9s19.3-81.6 29-84.1s19.3 26.6 29 66.9s19.3 88.8 28.9 115.8s19.3 31.4 29 12.4s19.3-59.2 29-95s19.3-64.5 29-70s19.3 12.3 29 40.6s19.3 64.8 29 87.3s19.3 29.8 29 18.9s19.3-38.7 29-65.5s19.3-50.8 29-58.2s19.3 2 29 21s19.3 46.3 28.9 65s19.3 28.1 29 23.4s19.3-22.7 29-42.5s19.3-39.8 29-48.7s19.3-6.2 29 5.5s19.3 31.4 29 47.2s19.3 26.9 29 27.2s19.3-9.9 29-23.9s19.3-31 29-41.2s19.3-13.2 29-7.6s19.3 19.2 28.9 32.6s19.3 26.1 29 30.9s19.3 1.6 29-7.6s19.3-23.8 29-35.5s19.3-19.8 29-19.8"/></g><use href="#cb" class="o1" transform="translate(0 552.5) scale(1 1.0000)"/><g class="gt"><path d="M243.2 513.5c9.7 57 19.3 118.9 29 148.3s19.3 24.8 29-7.7s19.3-90 29-136s19.3-77.4 29-76.9s19.3 32.2 29 73.2s19.3 88.3 28.9 113.1s19.3 26.1 29 5.2s19.3-61.9 29-96.9s19.3-61.5 29-64.7s19.3 16.5 29 45.4s19.3 64.6 29 85.5s19.3 25.8 29 13.4s19.3-40.7 29-66.9s19.3-48.5 29-54.2s19.3 5.1 29 24.6s19.3 46 28.9 63.5s19.3 25.1 29 19.3s19.3-24.3 29-43.6s19.3-38 29-45.6s19.3-3.6 29 8.4s19.3 31.1 29 45.9s19.3 24.3 29 23.8s19.3-10.9 29-24.5s19.3-29.4 29-38.5s19.3-11.1 29-5.4s19.3 18.7 28.9 31.2s19.3 24 29 28.1s19.3 .8 29-7.9s19.3-22.2 29-32.9s19.3-18.1 29-18.1"/></g><use href="#cb" class="o1" transform="translate(0 552.5) scale(1 0.8893)"/><g class="gt"><path d="M243.2 522.3c9.7 57.6 19.3 117.4 29 143.7s19.3 17.7 29-17.2s19.3-93.1 29-137.7s19.3-72.8 29-69.3s19.3 37.6 29 79.2s19.3 87.5 28.9 110s19.3 20.6 29-2.2s19.3-64.4 29-98.4s19.3-58 29-59s19.3 20.6 29 50s19.3 64.1 29 83.3s19.3 21.7 29 7.9s19.3-42.7 29-68.2s19.3-46 29-50s19.3 8.3 29 28.2s19.3 45.7 28.9 61.9s19.3 22 29 15s19.3-25.9 29-44.6s19.3-36 29-42.2s19.3-1.1 29 11.2s19.3 30.7 29 44.4s19.3 21.8 29 20.4s19.3-12.1 29-25.1s19.3-27.6 29-35.6s19.3-9 29-3.2s19.3 18.1 28.9 29.6s19.3 21.8 29 25.2s19.3 0 29-8.1s19.3-20.4 29-30.1s19.3-16.3 29-16.3"/></g><use href="#cb" class="o1" transform="translate(0 552.5) scale(1 0.7750)"/><g class="gt"><path d="M243.2 531.3c9.7 57.9 19.3 115.4 29 138.4s19.3 10.5 29-26.6s19.3-95.7 29-138.8s19.3-67.8 29-61.4s19.3 42.8 29 84.8s19.3 86.3 28.9 106.4s19.3 15.2 29-9.4s19.3-66.6 29-99.5s19.3-54.6 29-53.3s19.3 24.9 29 54.6s19.3 63.3 29 80.7s19.3 17.6 29 2.4s19.3-44.5 29-69.2s19.3-43.3 29-45.6s19.3 11.5 29 31.7s19.3 45.1 28.9 59.9s19.3 18.7 29 10.7s19.3-27.2 29-45.3s19.3-33.9 29-38.7s19.3 1.4 29 13.9s19.3 30.3 29 42.8s19.3 19.1 29 16.8s19.3-13 29-25.5s19.3-25.7 29-32.6s19.3-7.1 29-1.1s19.3 17.6 28.9 28.1s19.3 19.4 29 22.1s19.3-.7 29-8.2s19.3-18.5 29-27.2s19.3-14.6 29-14.6"/></g><use href="#cb" class="o1" transform="translate(0 552.5) scale(1 0.6577)"/><g class="gt"><path d="M243.2 540.4c9.7 58 19.3 113 29 132.6s19.3 3.2 29-36s19.3-97.9 29-139.3s19.3-62.7 29-53.4s19.3 48 29 90.2s19.3 84.7 28.9 102.3s19.3 9.8 29-16.5s19.3-68.5 29-100.2s19.3-50.8 29-47.3s19.3 28.8 29 58.8s19.3 62.3 29 77.8s19.3 13.5 29-3.1s19.3-46 29-69.9s19.3-40.5 29-41s19.3 14.7 29 35.1s19.3 44.4 28.9 57.7s19.3 15.4 29 6.3s19.3-28.4 29-45.8s19.3-31.7 29-35.1s19.3 4 29 16.6s19.3 29.6 29 40.9s19.3 16.4 29 13.3s19.3-14.1 29-25.9s19.3-23.8 29-29.5s19.3-4.8 29 1.2s19.3 16.9 28.9 26.3s19.3 17.1 29 19.1s19.3-1.5 29-8.4s19.3-16.7 29-24.3s19.3-12.7 29-12.7"/></g><use href="#cb" class="o1" transform="translate(0 552.5) scale(1 0.5378)"/><g class="gt"><path d="M243.2 549.5c9.7 57.9 19.3 110.2 29 126.4s19.3-4.2 29-45.4s19.3-99.7 29-139.2s19.3-57.3 29-45.1s19.3 52.9 29 95.1s19.3 82.9 28.9 98s19.3 4.1 29-23.7s19.3-70.1 29-100.5s19.3-46.8 29-41.1s19.3 32.7 29 62.8s19.3 61.1 29 74.7s19.3 9.1 29-8.7s19.3-47.5 29-70.4s19.3-37.4 29-36.2s19.3 17.8 29 38.3s19.3 43.6 28.9 55.4s19.3 12 29 1.9s19.3-29.7 29-46.3s19.3-29.2 29-31.2s19.3 6.4 29 19.2s19.3 28.8 29 38.9s19.3 13.7 29 9.7s19.3-15 29-26.2s19.3-21.7 29-26.2s19.3-2.7 29 3.4s19.3 16.1 28.9 24.4s19.3 14.6 29 15.9s19.3-2.3 29-8.5s19.3-14.7 29-21.2s19.3-10.7 29-10.7"/></g><use href="#cb" class="o1" transform="translate(0 552.5) scale(1 0.4158)"/><g class="gt"><path d="M243.2 558.6c9.7 57.5 19.3 106.9 29 119.6s19.3-11.4 29-54.4s19.3-101.3 29-138.7s19.3-51.6 29-36.6s19.3 57.6 29 99.7s19.3 80.7 28.9 93.2s19.3-1.4 29-30.7s19.3-71.6 29-100.5s19.3-42.6 29-34.7s19.3 36.5 29 66.6s19.3 59.6 29 71.2s19.3 4.8 29-14.2s19.3-48.7 29-70.5s19.3-34.3 29-31.3s19.3 20.8 29 41.4s19.3 42.4 28.9 52.7s19.3 8.6 29-2.5s19.3-30.8 29-46.5s19.3-26.7 29-27.3s19.3 8.9 29 21.7s19.3 28.1 29 36.9s19.3 10.8 29 6s19.3-16 29-26.4s19.3-19.5 29-22.8s19.3-.6 29 5.5s19.3 15.3 28.9 22.5s19.3 12 29 12.6s19.3-3 29-8.5s19.3-12.6 29-18s19.3-8.9 29-8.9"/></g><use href="#cb" class="o1" transform="translate(0 552.5) scale(1 0.2922)"/><g class="gt"><path d="M243.2 567.7c9.7 56.9 19.3 103.2 29 112.4s19.3-18.7 29-63.3s19.3-102.4 29-137.6s19.3-45.8 29-28s19.3 62.1 29 103.9s19.3 78.2 28.9 88s19.3-6.8 29-37.5s19.3-72.8 29-100.1s19.3-38.3 29-28.2s19.3 40.1 29 70.1s19.3 57.8 29 67.4s19.3 .6 29-19.6s19.3-49.8 29-70.4s19.3-31 29-26.3s19.3 23.7 29 44.3s19.3 41.2 28.9 49.9s19.3 5.2 29-6.9s19.3-31.6 29-46.4s19.3-24.1 29-23.3s19.3 11.4 29 24.2s19.3 27 29 34.5s19.3 8 29 2.4s19.3-16.8 29-26.5s19.3-17.3 29-19.3s19.3 1.4 29 7.6s19.3 14.5 28.9 20.5s19.3 9.5 29 9.3s19.3-3.8 29-8.6s19.3-10.6 29-14.8s19.3-6.8 29-6.8"/></g><use href="#cb" class="o1" transform="translate(0 552.5) scale(1 0.1674)"/><g class="gt"><path d="M243.2 576.8c9.7 56.1 19.3 99 29 104.6s19.3-25.9 29-71.9s19.3-103 29-135.9s19.3-39.8 29-19.3s19.3 66.4 29 107.8s19.3 75.3 28.9 82.4s19.3-12.4 29-44.3s19.3-73.5 29-99.2s19.3-33.7 29-21.5s19.3 43.5 29 73.3s19.3 55.9 29 63.4s19.3-3.8 29-25s19.3-50.6 29-70s19.3-27.6 29-21.2s19.3 26.6 29 47.1s19.3 39.8 28.9 46.8s19.3 1.8 29-11.2s19.3-32.5 29-46.4s19.3-21.3 29-19.1s19.3 13.8 29 26.6s19.3 26 29 32.1s19.3 5 29-1.4s19.3-17.5 29-26.4s19.3-15 29-15.8s19.3 3.5 29 9.7s19.3 13.7 28.9 18.5s19.3 6.8 29 5.9s19.3-4.4 29-8.5s19.3-8.5 29-11.6s19.3-4.8 29-4.8"/></g><use href="#cb" class="o1" transform="translate(0 552.5) scale(1 0.0419)"/><g class="gt"><path d="M243.2 585.7c9.7 55 19.3 94.5 29 96.5s19.3-32.9 29-80.2s19.3-103.3 29-133.7s19.3-33.6 29-10.5s19.3 70.3 29 111.1s19.3 72.3 28.9 76.7s19.3-18 29-51s19.3-74 29-97.9s19.3-29.2 29-14.9s19.3 46.9 29 76.3s19.3 53.7 29 59.1s19.3-8 29-30.2s19.3-51.2 29-69.3s19.3-24.1 29-16s19.3 29.3 29 49.6s19.3 38.2 28.9 43.6s19.3-1.7 29-15.5s19.3-33.1 29-46s19.3-18.6 29-14.9s19.3 16.1 29 28.8s19.3 24.7 29 29.5s19.3 2.2 29-5s19.3-18.2 29-26.2s19.3-12.8 29-12.3s19.3 5.7 29 11.8s19.3 12.7 28.9 16.3s19.3 4.2 29 2.6s19.3-5.2 29-8.5s19.3-6.4 29-8.3s19.3-2.7 29-2.7"/></g><use href="#cb" class="o1" transform="translate(0 552.5) scale(1 -0.0838)"/><g class="gt"><path d="M243.2 594.5c9.7 53.8 19.3 89.7 29 88.1s19.3-39.9 29-88.3s19.3-103 29-130.9s19.3-27.4 29-1.7s19.3 74 29 114s19.3 68.8 28.9 70.5s19.3-23.3 29-57.3s19.3-74.2 29-96.2s19.3-24.6 29-8.2s19.3 49.9 29 78.9s19.3 51.3 29 54.6s19.3-12.2 29-35.3s19.3-51.7 29-68.4s19.3-20.4 29-10.7s19.3 32 29 52s19.3 36.5 28.9 40.2s19.3-5.2 29-19.8s19.3-33.7 29-45.5s19.3-15.6 29-10.6s19.3 18.3 29 30.9s19.3 23.5 29 26.9s19.3-.8 29-8.7s19.3-18.8 29-26s19.3-10.3 29-8.6s19.3 7.8 29 13.9s19.3 11.7 28.9 14s19.3 1.5 29-.8s19.3-5.9 29-8.5s19.3-4.1 29-4.8s19.3-.7 29-.7"/></g><use href="#cb" class="o1" transform="translate(0 552.5) scale(1 -0.2091)"/><g class="gt"><path d="M243.2 603.2c9.7 52.3 19.3 84.4 29 79.2s19.3-46.6 29-95.9s19.3-102.5 29-127.7s19.3-21 29 7.1s19.3 77.4 29 116.5s19.3 65.2 28.9 64.1s19.3-28.6 29-63.4s19.3-74.3 29-94.3s19.3-19.6 29-1.3s19.3 52.8 29 81.2s19.3 48.8 29 49.9s19.3-16.5 29-40.4s19.3-51.9 29-67.1s19.3-16.8 29-5.4s19.3 34.4 29 54.1s19.3 34.7 28.9 36.7s19.3-8.6 29-24s19.3-34.1 29-44.8s19.3-12.7 29-6.3s19.3 20.5 29 32.9s19.3 22.2 29 24.2s19.3-3.8 29-12.4s19.3-19.3 29-25.6s19.3-7.8 29-4.9s19.3 9.8 29 15.8s19.3 10.6 28.9 11.7s19.3-1.1 29-4.1s19.3-6.6 29-8.4s19.3-1.9 29-1.4s19.3 1.3 29 1.3"/></g><use href="#cb" class="o1" transform="translate(0 552.5) scale(1 -0.3335)"/><g class="gt"><path d="M243.2 611.6c9.7 50.6 19.3 78.9 29 70.1s19.3-53.3 29-103.2s19.3-101.6 29-124s19.3-14.4 29 16s19.3 80.5 29 118.5s19.3 61.2 28.9 57.4s19.3-33.8 29-69.3s19.3-73.9 29-91.9s19.3-14.7 29 5.5s19.3 55.5 29 83.2s19.3 46 29 45s19.3-20.7 29-45.2s19.3-52 29-65.7s19.3-13 29-.1s19.3 36.8 29 56.1s19.3 32.7 28.9 33s19.3-12 29-28s19.3-34.5 29-44s19.3-9.8 29-2s19.3 22.7 29 34.9s19.3 20.7 29 21.2s19.3-6.6 29-15.9s19.3-19.8 29-25.2s19.3-5.3 29-1.2s19.3 11.9 29 17.8s19.3 9.4 28.9 9.3s19.3-3.8 29-7.5s19.3-7.2 29-8.2s19.3 .2 29 1.9s19.3 3.4 29 3.4"/></g><use href="#cb" class="o1" transform="translate(0 552.5) scale(1 -0.4567)"/><g class="gt"><path d="M243.2 619.8c9.7 48.8 19.3 73.1 29 60.7s19.3-59.7 29-110.1s19.3-100.2 29-119.7s19.3-7.9 29 24.7s19.3 83.3 29 120.1s19.3 57 28.9 50.5s19.3-38.9 29-75s19.3-73.2 29-89.1s19.3-9.8 29 12.2s19.3 58 29 84.9s19.3 43 29 39.9s19.3-24.8 29-49.9s19.3-51.8 29-63.9s19.3-9.2 29 5.3s19.3 39 29 57.8s19.3 30.6 28.9 29.2s19.3-15.5 29-32.1s19.3-34.5 29-42.8s19.3-6.8 29 2.3s19.3 24.7 29 36.6s19.3 19.2 29 18.3s19.3-9.5 29-19.4s19.3-20.3 29-24.7s19.3-2.8 29 2.5s19.3 13.9 29 19.6s19.3 8.3 28.9 6.9s19.3-6.4 29-10.8s19.3-7.7 29-8s19.3 2.4 29 5.3s19.3 5.4 29 5.4"/></g><use href="#cb" class="o1" transform="translate(0 552.5) scale(1 -0.5781)"/><g class="gt"><path d="M243.2 627.8c9.7 46.7 19.3 66.8 29 50.9s19.3-65.7 29-116.4s19.3-98.5 29-115.1s19.3-1.3 29 33.4s19.3 85.8 29 121.2s19.3 52.6 28.9 43.4s19.3-43.9 29-80.4s19.3-72.2 29-85.9s19.3-4.9 29 18.9s19.3 60.3 29 86.3s19.3 39.8 29 34.6s19.3-28.8 29-54.4s19.3-51.4 29-61.9s19.3-5.3 29 10.6s19.3 41.1 29 59.3s19.3 28.3 28.9 25.2s19.3-18.6 29-35.8s19.3-34.6 29-41.7s19.3-3.7 29 6.7s19.3 26.7 29 38.2s19.3 17.5 29 15.2s19.3-12.3 29-22.8s19.3-20.5 29-24s19.3-.3 29 6.2s19.3 15.7 29 21.3s19.3 7.2 28.9 4.6s19.3-9 29-14.1s19.3-8.4 29-7.9s19.3 4.7 29 8.7s19.3 7.4 29 7.4"/></g><use href="#cb" class="o1" transform="translate(0 552.5) scale(1 -0.6971)"/><g class="gt"><path d="M243.2 635.4c9.7 44.5 19.3 60.4 29 41.1s19.3-71.6 29-122.4s19.3-96.4 29-109.9s19.3 5.2 29 41.8s19.3 88 29 121.9s19.3 48 28.9 36.1s19.3-48.6 29-85.4s19.3-71 29-82.5s19.3 .2 29 25.6s19.3 62.2 29 87.2s19.3 36.6 29 29.3s19.3-32.6 29-58.6s19.3-50.8 29-59.7s19.3-1.5 29 15.8s19.3 43 29 60.6s19.3 25.9 28.9 21.2s19.3-21.9 29-39.6s19.3-34.3 29-40.2s19.3-.7 29 10.9s19.3 28.5 29 39.7s19.3 15.9 29 12.2s19.3-15.1 29-26.2s19.3-20.8 29-23.3s19.3 2.2 29 9.9s19.3 17.6 29 23s19.3 5.9 28.9 2.1s19.3-11.6 29-17.3s19.3-8.9 29-7.6s19.3 6.8 29 12s19.3 9.4 29 9.4"/></g><use href="#cb" class="o1" transform="translate(0 552.5) scale(1 -0.8135)"/><g class="gt"><path d="M243.2 642.7c9.7 42 19.3 53.7 29 31.1s19.3-77.2 29-127.9s19.3-93.8 29-104.3s19.3 11.8 29 50.2s19.3 89.7 29 121.9s19.3 43.3 28.9 28.8s19.3-53.1 29-90.1s19.3-69.6 29-78.8s19.3 5.3 29 32.2s19.3 64 29 87.9s19.3 33.2 29 23.8s19.3-36.4 29-62.7s19.3-50 29-57.2s19.3 2.5 29 21.1s19.3 44.6 29 61.5s19.3 23.5 28.9 17.1s19.3-25 29-43.1s19.3-34.1 29-38.7s19.3 2.4 29 15.2s19.3 30.2 29 41s19.3 14.1 29 9s19.3-17.9 29-29.5s19.3-20.8 29-22.3s19.3 4.6 29 13.4s19.3 19.4 29 24.6s19.3 4.8 28.9-.3s19.3-14.2 29-20.5s19.3-9.4 29-7.3s19.3 9 29 15.3s19.3 11.3 29 11.3"/></g><use href="#cb" class="o1" transform="translate(0 552.5) scale(1 -0.9266)"/><g class="gt"><path d="M243.2 649.7c9.7 39.4 19.3 46.8 29 20.9s19.3-82.5 29-132.9s19.3-90.9 29-98.3s19.3 18.3 29 58.4s19.3 91.2 29 121.6s19.3 38.3 28.9 21.2s19.3-57.5 29-94.4s19.3-67.8 29-74.7s19.3 10.3 29 38.6s19.3 65.5 29 88.2s19.3 29.6 29 18.2s19.3-40 29-66.5s19.3-49.1 29-54.5s19.3 6.3 29 26.2s19.3 46.3 29 62.4s19.3 20.8 28.9 12.8s19.3-28 29-46.4s19.3-33.8 29-37.1s19.3 5.4 29 19.4s19.3 31.9 29 42.2s19.3 12.3 29 5.9s19.3-20.7 29-32.7s19.3-20.9 29-21.4s19.3 7.1 29 17s19.3 21.1 29 26.1s19.3 3.6 28.9-2.7s19.3-16.7 29-23.6s19.3-9.8 29-7s19.3 11.1 29 18.5s19.3 13.2 29 13.2"/></g><use href="#cb" class="o1" transform="translate(0 552.5) scale(1 -1.0361)"/><g class="gt"><path d="M243.2 656.3c9.7 36.7 19.3 39.8 29 10.7s19.3-87.5 29-137.4s19.3-87.7 29-91.9s19.3 24.8 29 66.3s19.3 92.2 29 120.7s19.3 33.1 28.9 13.6s19.3-61.5 29-98.3s19.3-65.8 29-70.3s19.3 15.1 29 44.8s19.3 66.8 29 88.2s19.3 25.9 29 12.5s19.3-43.3 29-69.9s19.3-48 29-51.7s19.3 10.2 29 31.3s19.3 47.5 29 62.8s19.3 18.3 28.9 8.7s19.3-31 29-49.7s19.3-33.2 29-35.2s19.3 8.6 29 23.6s19.3 33.3 29 43.1s19.3 10.5 29 2.7s19.3-23.3 29-35.7s19.3-20.9 29-20.4s19.3 9.5 29 20.5s19.3 22.7 29 27.5s19.3 2.3 28.9-5.1s19.3-19.1 29-26.6s19.3-10.3 29-6.7s19.3 13.1 29 21.6s19.3 15.1 29 15.1"/></g><use href="#cb" class="o1" transform="translate(0 552.5) scale(1 -1.1414)"/><g class="gt"><path d="M243.2 662.5c9.7 33.8 19.3 32.5 29 .4s19.3-92.2 29-141.4s19.3-84 29-85.1s19.3 31.1 29 74s19.3 92.9 29 119.4s19.3 27.9 28.9 5.9s19.3-65.4 29-101.9s19.3-63.4 29-65.6s19.3 20.1 29 50.9s19.3 67.7 29 87.8s19.3 22.2 29 6.8s19.3-46.6 29-73.2s19.3-46.6 29-48.5s19.3 13.9 29 36.1s19.3 48.8 29 63.2s19.3 15.6 28.9 4.4s19.3-33.8 29-52.7s19.3-32.5 29-33.2s19.3 11.5 29 27.6s19.3 34.7 29 43.9s19.3 8.6 29-.5s19.3-25.7 29-38.5s19.3-20.8 29-19.4s19.3 12 29 24s19.3 24.3 29 28.8s19.3 1 28.9-7.6s19.3-21.3 29-29.4s19.3-10.7 29-6.4s19.3 15.2 29 24.7s19.3 16.9 29 16.9"/></g><use href="#cb" class="o1" transform="translate(0 552.5) scale(1 -1.2423)"/><g class="gt"><path d="M243.2 668.2c9.7 30.8 19.3 25.2 29-9.9s19.3-96.4 29-144.7s19.3-80.1 29-78s19.3 37.3 29 81.3s19.3 93.3 29 117.7s19.3 22.5 28.9-1.8s19.3-69 29-105s19.3-61 29-60.8s19.3 24.9 29 56.8s19.3 68.5 29 87.1s19.3 18.2 29 1s19.3-49.6 29-76.1s19.3-45 29-45.2s19.3 17.7 29 40.9s19.3 49.8 29 63.2s19.3 12.8 28.9 .1s19.3-36.5 29-55.5s19.3-31.8 29-31.1s19.3 14.5 29 31.5s19.3 35.9 29 44.6s19.3 6.6 29-3.8s19.3-28.1 29-41.2s19.3-20.6 29-18.2s19.3 14.5 29 27.4s19.3 25.6 29 29.9s19.3-.2 28.9-9.9s19.3-23.6 29-32.2s19.3-11 29-6s19.3 17.1 29 27.6s19.3 18.6 29 18.6"/></g><use href="#cb" class="o1" transform="translate(0 552.5) scale(1 -1.3383)"/><g class="gt"><path d="M243.2 673.5c9.7 27.6 19.3 17.8 29-20.1s19.3-100.3 29-147.5s19.3-76 29-70.7s19.3 43.4 29 88.4s19.3 93.2 29 115.4s19.3 17.1 28.9-9.4s19.3-72.3 29-107.8s19.3-58.1 29-55.6s19.3 29.6 29 62.5s19.3 68.9 29 86s19.3 14.3 29-4.7s19.3-52.6 29-78.8s19.3-43.3 29-41.7s19.3 21.4 29 45.5s19.3 50.5 29 62.9s19.3 10 28.9-4.2s19.3-39 29-58s19.3-30.9 29-28.9s19.3 17.4 29 35.3s19.3 36.9 29 45s19.3 4.7 29-6.9s19.3-30.3 29-43.7s19.3-20.4 29-17s19.3 16.6 29 30.5s19.3 27 29 31s19.3-1.5 28.9-12.2s19.3-25.8 29-34.8s19.3-11.3 29-5.6s19.3 18.9 29 30.4s19.3 20.3 29 20.3"/></g><use href="#cb" class="o1" transform="translate(0 552.5) scale(1 -1.4289)"/><g class="gt"><path d="M243.2 678.3c9.7 24.4 19.3 10.2 29-30.3s19.3-103.8 29-149.7s19.3-71.4 29-63s19.3 49.3 29 95.1s19.3 92.8 29 112.7s19.3 11.5 28.9-17.1s19.3-75.4 29-110.1s19.3-55.1 29-50.2s19.3 34.2 29 67.9s19.3 69.1 29 84.6s19.3 10.4 29-10.4s19.3-55.3 29-81.2s19.3-41.4 29-38s19.3 25 29 49.9s19.3 51.1 29 62.5s19.3 7.1 28.9-8.5s19.3-41.3 29-60.3s19.3-29.9 29-26.6s19.3 20.2 29 39s19.3 37.8 29 45.2s19.3 2.8 29-10s19.3-32.5 29-46.1s19.3-20.1 29-15.7s19.3 19 29 33.7s19.3 28.2 29 31.9s19.3-2.9 28.9-14.6s19.3-27.8 29-37.3s19.3-11.6 29-5.2s19.3 20.8 29 33.2s19.3 21.9 29 21.9"/></g><use href="#cb" class="o1" transform="translate(0 552.5) scale(1 -1.5140)"/><g class="gt"><path d="M243.2 682.6c9.7 21 19.3 2.7 29-40.3s19.3-106.9 29-151.4s19.3-66.5 29-55s19.3 55 29 101.4s19.3 92.1 29 109.6s19.3 6 28.9-24.7s19.3-78.1 29-112s19.3-51.8 29-44.6s19.3 38.6 29 73s19.3 69 29 82.9s19.3 6.2 29-16.2s19.3-57.6 29-83.1s19.3-39.3 29-34.2s19.3 28.4 29 54.1s19.3 51.6 29 61.8s19.3 4.3 28.9-12.7s19.3-43.6 29-62.5s19.3-28.7 29-24.1s19.3 23 29 42.5s19.3 38.6 29 45.3s19.3 .7 29-13.2s19.3-34.5 29-48.3s19.3-19.6 29-14.3s19.3 21.2 29 36.7s19.3 29.4 29 32.7s19.3-4.1 28.9-16.8s19.3-29.8 29-39.7s19.3-11.8 29-4.7s19.3 22.5 29 35.8s19.3 23.3 29 23.3"/></g><use href="#cb" class="o1" transform="translate(0 552.5) scale(1 -1.5931)"/><g class="gt"><path d="M243.2 686.4c9.7 17.6 19.3-4.9 29-50.2s19.3-109.6 29-152.4s19.3-61.5 29-46.9s19.3 60.6 29 107.4s19.3 90.9 29 106s19.3 .3 28.9-32.2s19.3-80.5 29-113.4s19.3-48.4 29-38.9s19.3 43 29 77.9s19.3 68.5 29 80.7s19.3 2.3 29-21.7s19.3-59.9 29-84.8s19.3-37.1 29-30.3s19.3 31.8 29 58.1s19.3 51.7 29 60.8s19.3 1.4 28.9-16.9s19.3-45.6 29-64.3s19.3-27.4 29-21.5s19.3 25.6 29 45.8s19.3 39.2 29 45.2s19.3-1.2 29-16.2s19.3-36.4 29-50.3s19.3-19.1 29-12.9s19.3 23.3 29 39.5s19.3 30.4 29 33.4s19.3-5.3 28.9-19s19.3-31.7 29-41.9s19.3-11.9 29-4.2s19.3 24.1 29 38.2s19.3 24.7 29 24.7"/></g><use href="#cb" class="o1" transform="translate(0 552.5) scale(1 -1.6658)"/><g class="gt"><path d="M243.2 689.7c9.7 14.1 19.3-12.5 29-59.9s19.3-111.8 29-152.8s19.3-56.2 29-38.6s19.3 65.8 29 112.9s19.3 89.4 29 102s19.3-5.2 28.9-39.5s19.3-82.8 29-114.5s19.3-44.8 29-33s19.3 47.2 29 82.5s19.3 67.9 29 78.3s19.3-1.8 29-27.2s19.3-61.9 29-86.2s19.3-34.8 29-26.3s19.3 35.1 29 61.9s19.3 51.8 29 59.7s19.3-1.5 28.9-21s19.3-47.6 29-66s19.3-26 29-18.9s19.3 28.2 29 49s19.3 39.7 29 45s19.3-3.1 29-19.2s19.3-38.3 29-52.2s19.3-18.5 29-11.4s19.3 25.2 29 42.1s19.3 31.3 29 34s19.3-6.6 28.9-21.1s19.3-33.2 29-43.8s19.3-12.1 29-3.8s19.3 25.6 29 40.5s19.3 26 29 26"/></g><use href="#cb" class="o1" transform="translate(0 552.5) scale(1 -1.7321)"/><g class="gt"><path d="M243.2 692.4c9.7 10.5 19.3-19.9 29-69.3s19.3-113.6 29-152.7s19.3-50.5 29-30s19.3 70.8 29 117.9s19.3 87.6 29 97.6s19.3-10.8 28.9-46.7s19.3-84.5 29-115s19.3-41 29-27s19.3 51.1 29 86.7s19.3 67.1 29 75.7s19.3-6 29-32.8s19.3-63.6 29-87.2s19.3-32.2 29-22s19.3 38.2 29 65.4s19.3 51.5 29 58.2s19.3-4.5 28.9-25.1s19.3-49.1 29-67.2s19.3-24.5 29-16.2s19.3 30.6 29 51.9s19.3 40 29 44.6s19.3-5.2 29-22.2s19.3-39.8 29-53.7s19.3-17.9 29-9.9s19.3 27.1 29 44.6s19.3 32.1 29 34.4s19.3-7.8 28.9-23.1s19.3-34.9 29-45.7s19.3-12.2 29-3.3s19.3 27.1 29 42.7s19.3 27.2 29 27.2"/></g><use href="#cb" class="o1" transform="translate(0 552.5) scale(1 -1.7914)"/><g class="gt"><path d="M243.2 694.6c9.7 6.9 19.3-27.4 29-78.5s19.3-114.9 29-151.9s19.3-44.7 29-21.4s19.3 75.5 29 122.5s19.3 85.3 29 92.7s19.3-16.3 28.9-53.7s19.3-86 29-115.1s19.3-37 29-20.8s19.3 54.9 29 90.6s19.3 65.9 29 72.7s19.3-10 29-38.1s19.3-65.1 29-87.8s19.3-29.7 29-17.9s19.3 41.2 29 68.7s19.3 51.1 29 56.6s19.3-7.3 28.9-29s19.3-50.6 29-68.3s19.3-23 29-13.5s19.3 33 29 54.7s19.3 40.2 29 44s19.3-7.1 29-25s19.3-41.4 29-55.2s19.3-17.1 29-8.3s19.3 28.9 29 47s19.3 32.7 29 34.6s19.3-8.9 28.9-25s19.3-36.3 29-47.4s19.3-12.2 29-2.8s19.3 28.5 29 44.7s19.3 28.3 29 28.3"/></g><use href="#cb" class="o1" transform="translate(0 552.5) scale(1 -1.8437)"/><g class="gt"><path d="M243.2 696.2c9.7 3.3 19.3-34.7 29-87.4s19.3-115.7 29-150.4s19.3-38.9 29-12.8s19.3 79.9 29 126.6s19.3 82.8 29 87.6s19.3-21.7 28.9-60.5s19.3-87.1 29-114.7s19.3-32.9 29-14.6s19.3 58.4 29 94.1s19.3 64.5 29 69.4s19.3-14 29-43.2s19.3-66.4 29-88.2s19.3-26.9 29-13.5s19.3 44 29 71.7s19.3 50.5 29 54.7s19.3-10.3 28.9-32.9s19.3-51.9 29-69.1s19.3-21.3 29-10.6s19.3 35.1 29 57.2s19.3 40.2 29 43.2s19.3-9.1 29-27.8s19.3-42.6 29-56.3s19.3-16.3 29-6.7s19.3 30.6 29 49.1s19.3 33.2 29 34.8s19.3-10 28.9-26.8s19.3-37.6 29-48.9s19.3-12.2 29-2.3s19.3 29.7 29 46.5s19.3 29.2 29 29.2"/></g><use href="#cb" class="o1" transform="translate(0 552.5) scale(1 -1.8888)"/><g class="gt"><path d="M243.2 697.2c9.7-.4 19.3-41.9 29-95.9s19.3-116.1 29-148.4s19.3-32.8 29-4.1s19.3 84 29 130.2s19.3 80.1 29 82.2s19.3-27.2 28.9-67.1s19.3-87.9 29-113.9s19.3-28.7 29-8.4s19.3 61.7 29 97.3s19.3 62.8 29 65.8s19.3-17.8 29-48.1s19.3-67.4 29-88.2s19.3-24 29-9.1s19.3 46.6 29 74.4s19.3 49.7 29 52.6s19.3-13.1 28.9-36.6s19.3-52.9 29-69.6s19.3-19.6 29-7.8s19.3 37.1 29 59.5s19.3 40.1 29 42.3s19.3-10.9 29-30.4s19.3-43.7 29-57.3s19.3-15.5 29-5.1s19.3 32.2 29 51.1s19.3 33.5 29 34.7s19.3-11.1 28.9-28.5s19.3-38.7 29-50.1s19.3-12.1 29-1.8s19.3 30.8 29 48.1s19.3 30.1 29 30.1"/></g><use href="#cb" class="o1" transform="translate(0 552.5) scale(1 -1.9263)"/><g class="gt"><path d="M243.2 697.7c9.7-4 19.3-48.9 29-104s19.3-116.2 29-146s19.3-26.5 29 4.8s19.3 87.8 29 133.3s19.3 76.8 29 76.3s19.3-32.4 28.9-73.4s19.3-88.3 29-112.6s19.3-24.4 29-2.1s19.3 64.8 29 100.1s19.3 60.8 29 62s19.3-21.8 29-53s19.3-68 29-87.8s19.3-21.1 29-4.7s19.3 49.1 29 76.9s19.3 48.5 29 50.2s19.3-15.8 28.9-40.1s19.3-53.8 29-69.9s19.3-17.7 29-4.8s19.3 39.1 29 61.6s19.3 39.7 29 41.1s19.3-12.7 29-32.9s19.3-44.7 29-58s19.3-14.6 29-3.5s19.3 33.7 29 52.9s19.3 33.8 29 34.6s19.3-12.1 28.9-30.1s19.3-39.8 29-51.3s19.3-12 29-1.3s19.3 31.8 29 49.6s19.3 30.8 29 30.8"/></g><use href="#cb" class="o1" transform="translate(0 552.5) scale(1 -1.9563)"/><g class="gt"><path d="M243.2 697.6c9.7-7.6 19.3-55.7 29-111.7s19.3-115.7 29-142.8s19.3-20.3 29 13.4s19.3 91.2 29 135.9s19.3 73.4 29 70.2s19.3-37.6 28.9-79.4s19.3-88.5 29-111s19.3-19.8 29 4.3s19.3 67.6 29 102.5s19.3 58.6 29 57.9s19.3-25.5 29-57.5s19.3-68.5 29-87.1s19.3-18.1 29-.3s19.3 51.4 29 79s19.3 47.3 29 47.7s19.3-18.5 28.9-43.5s19.3-54.5 29-69.9s19.3-15.8 29-1.9s19.3 40.8 29 63.4s19.3 39.3 29 39.9s19.3-14.5 29-35.3s19.3-45.4 29-58.5s19.3-13.6 29-1.8s19.3 34.9 29 54.4s19.3 33.9 29 34.3s19.3-13.1 28.9-31.6s19.3-40.6 29-52.2s19.3-11.8 29-.7s19.3 32.7 29 50.8s19.3 31.4 29 31.4"/></g><use href="#cb" class="o1" transform="translate(0 552.5) scale(1 -1.9785)"/><g class="gt"><path d="M243.2 696.9c9.7-11.2 19.3-62.3 29-119s19.3-114.7 29-139.1s19.3-13.9 29 22.1s19.3 94.3 29 137.9s19.3 69.6 29 63.8s19.3-42.5 28.9-85s19.3-88.3 29-108.9s19.3-15.3 29 10.6s19.3 70.1 29 104.4s19.3 56.3 29 53.7s19.3-29.3 29-61.9s19.3-68.6 29-86s19.3-15 29 4.1s19.3 53.4 29 80.8s19.3 46 29 45.1s19.3-21.1 28.9-46.7s19.3-55 29-69.7s19.3-13.8 29 1s19.3 42.4 29 65s19.3 38.6 29 38.4s19.3-16.2 29-37.5s19.3-46 29-58.7s19.3-12.6 29-.2s19.3 36 29 55.7s19.3 33.9 29 33.9s19.3-14 28.9-32.9s19.3-41.3 29-52.9s19.3-11.5 29-.1s19.3 33.4 29 51.8s19.3 31.9 29 31.9"/></g><use href="#cb" class="o1" transform="translate(0 552.5) scale(1 -1.9930)"/><g class="gt"><path d="M243.2 695.7c9.7-14.8 19.3-68.7 29-125.9s19.3-113.3 29-134.8s19.3-7.4 29 30.7s19.3 97 29 139.4s19.3 65.5 29 57.1s19.3-47.3 28.9-90.4s19.3-87.5 29-106.2s19.3-10.8 29 16.8s19.3 72.4 29 106s19.3 53.6 29 49.1s19.3-32.8 29-66s19.3-68.5 29-84.6s19.3-11.8 29 8.6s19.3 55.1 29 82.2s19.3 44.4 29 42.2s19.3-23.6 28.9-49.7s19.3-55.2 29-69.1s19.3-11.9 29 3.9s19.3 43.9 29 66.4s19.3 37.8 29 36.8s19.3-17.9 29-39.6s19.3-46.5 29-58.8s19.3-11.5 29 1.5s19.3 37.1 29 56.8s19.3 33.7 29 33.4s19.3-15 28.9-34.2s19.3-41.7 29-53.3s19.3-11.3 29 .4s19.3 33.9 29 52.6s19.3 32.3 29 32.3"/></g><use href="#cb" class="o1" transform="translate(0 552.5) scale(1 -1.9996)"/><g class="gt"><path d="M243.2 693.9c9.7-18.3 19.3-74.8 29-132.2s19.3-111.5 29-130.1s19.3-.9 29 39.2s19.3 99.3 29 140.4s19.3 61.2 29 50.2s19.3-52 28.9-95.4s19.3-86.6 29-103.2s19.3-6.1 29 23s19.3 74.3 29 107.1s19.3 50.9 29 44.5s19.3-36.3 29-69.9s19.3-68.2 29-82.9s19.3-8.7 29 12.9s19.3 56.9 29 83.5s19.3 42.6 29 39.1s19.3-26 28.9-52.5s19.3-55.1 29-68.2s19.3-9.9 29 6.7s19.3 45.2 29 67.5s19.3 36.8 29 35s19.3-19.5 29-41.5s19.3-46.7 29-58.6s19.3-10.3 29 3.2s19.3 37.9 29 57.7s19.3 33.3 29 32.6s19.3-15.7 28.9-35.2s19.3-42.1 29-53.6s19.3-11 29 .9s19.3 34.4 29 53.2s19.3 32.6 29 32.6"/></g><use href="#cb" class="o1" transform="translate(0 552.5) scale(1 -1.9982)"/><g class="gt"><path d="M243.2 691.5c9.7-21.7 19.3-80.6 29-138s19.3-109.1 29-124.7s19.3 5.6 29 47.5s19.3 101.2 29 140.7s19.3 56.7 29 43.2s19.3-56.5 28.9-100.1s19.3-85.3 29-99.8s19.3-1.5 29 29.1s19.3 76.1 29 107.9s19.3 47.7 29 39.5s19.3-39.6 29-73.4s19.3-67.5 29-80.8s19.3-5.5 29 17.2s19.3 58.3 29 84.3s19.3 40.8 29 36s19.3-28.4 28.9-55.2s19.3-54.9 29-67.1s19.3-7.8 29 9.6s19.3 46.3 29 68.3s19.3 35.8 29 33.2s19.3-21.1 29-43.4s19.3-46.7 29-58.1s19.3-9.2 29 4.8s19.3 38.6 29 58.3s19.3 33 29 31.9s19.3-16.5 28.9-36.2s19.3-42.2 29-53.6s19.3-10.7 29 1.4s19.3 34.7 29 53.6s19.3 32.7 29 32.7"/></g><use href="#cb" class="o1" transform="translate(0 552.5) scale(1 -1.9890)"/><g class="gt"><path d="M243.2 688.6c9.7-25 19.3-86 29-143.2s19.3-106.5 29-119s19.3 12 29 55.6s19.3 102.8 29 140.6s19.3 51.9 29 35.9s19.3-60.7 28.9-104.3s19.3-83.6 29-96s19.3 3.2 29 35.1s19.3 77.4 29 108.1s19.3 44.6 29 34.6s19.3-42.7 29-76.7s19.3-66.7 29-78.5s19.3-2.2 29 21.5s19.3 59.4 29 84.8s19.3 38.7 29 32.7s19.3-30.8 28.9-57.7s19.3-54.5 29-65.7s19.3-5.6 29 12.5s19.3 47.1 29 68.8s19.3 34.4 29 31.1s19.3-22.4 29-44.9s19.3-46.6 29-57.5s19.3-7.9 29 6.5s19.3 39.2 29 58.7s19.3 32.5 29 31s19.3-17.2 28.9-37s19.3-42.3 29-53.5s19.3-10.4 29 1.9s19.3 35 29 53.9s19.3 32.6 29 32.6"/></g><use href="#cb" class="o1" transform="translate(0 552.5) scale(1 -1.9720)"/><g class="gt"><path d="M243.2 685.2c9.7-28.3 19.3-91.2 29-148s19.3-103.3 29-112.7s19.3 18.4 29 63.5s19.3 103.9 29 139.9s19.3 47 29 28.5s19.3-64.6 28.9-108.1s19.3-81.7 29-91.9s19.3 7.9 29 41s19.3 78.5 29 108s19.3 41.2 29 29.4s19.3-45.7 29-79.7s19.3-65.4 29-75.7s19.3 1 29 25.6s19.3 60.4 29 85s19.3 36.4 29 29.2s19.3-32.9 28.9-59.9s19.3-53.8 29-64s19.3-3.5 29 15.2s19.3 47.9 29 69.1s19.3 33.1 29 29s19.3-23.8 29-46.3s19.3-46.2 29-56.6s19.3-6.8 29 8s19.3 39.7 29 59s19.3 31.7 29 29.8s19.3-17.8 28.9-37.6s19.3-42.2 29-53.2s19.3-9.9 29 2.5s19.3 35.1 29 53.9s19.3 32.5 29 32.5"/></g><use href="#cb" class="o1" transform="translate(0 552.5) scale(1 -1.9472)"/><g class="gt"><path d="M243.2 681.2c9.7-31.4 19.3-95.9 29-152s19.3-99.9 29-106.1s19.3 24.8 29 71.2s19.3 104.6 29 138.6s19.3 41.8 29 21s19.3-68.3 28.9-111.5s19.3-79.4 29-87.3s19.3 12.5 29 46.7s19.3 79.2 29 107.4s19.3 37.6 29 24.1s19.3-48.6 29-82.4s19.3-64 29-72.7s19.3 4.3 29 29.7s19.3 61 29 84.8s19.3 34 29 25.6s19.3-34.8 28.9-61.8s19.3-53 29-62.2s19.3-1.2 29 18.1s19.3 48.3 29 69s19.3 31.7 29 26.8s19.3-25.1 29-47.6s19.3-45.7 29-55.5s19.3-5.5 29 9.6s19.3 39.9 29 58.9s19.3 30.9 29 28.7s19.3-18.5 28.9-38.2s19.3-41.8 29-52.5s19.3-9.4 29 3s19.3 34.9 29 53.6s19.3 32.2 29 32.2"/></g><use href="#cb" class="o1" transform="translate(0 552.5) scale(1 -1.9146)"/><g class="gt"><path d="M243.2 676.7c9.7-34.4 19.3-100.3 29-155.5s19.3-95.9 29-99s19.3 31 29 78.6s19.3 104.9 29 136.8s19.3 36.5 29 13.4s19.3-71.7 28.9-114.4s19.3-76.9 29-82.5s19.3 17.1 29 52.2s19.3 79.8 29 106.5s19.3 33.9 29 18.7s19.3-51.1 29-84.7s19.3-62.4 29-69.5s19.3 7.6 29 33.7s19.3 61.5 29 84.3s19.3 31.5 29 21.9s19.3-36.6 28.9-63.5s19.3-52 29-60.1s19.3 .9 29 20.7s19.3 48.7 29 68.8s19.3 30 29 24.4s19.3-26.3 29-48.7s19.3-45 29-54.1s19.3-4.3 29 11.1s19.3 40.1 29 58.7s19.3 30 29 27.4s19.3-18.9 28.9-38.5s19.3-41.4 29-51.8s19.3-8.9 29 3.5s19.3 34.6 29 53.1s19.3 31.8 29 31.8"/></g><use href="#cb" class="o1" transform="translate(0 552.5) scale(1 -1.8746)"/><g class="gt"><path d="M243.2 671.7c9.7-37.3 19.3-104.3 29-158.4s19.3-91.5 29-91.4s19.3 37.1 29 85.6s19.3 104.7 29 134.4s19.3 31 29 5.8s19.3-74.9 28.9-116.9s19.3-74 29-77.3s19.3 21.6 29 57.5s19.3 79.9 29 105.1s19.3 30 29 13.2s19.3-53.5 29-86.7s19.3-60.4 29-65.9s19.3 10.8 29 37.5s19.3 61.7 29 83.5s19.3 28.8 29 18.1s19.3-38.3 28.9-64.9s19.3-50.7 29-57.7s19.3 3 29 23.2s19.3 48.8 29 68.2s19.3 28.3 29 22s19.3-27.3 29-49.5s19.3-44.2 29-52.6s19.3-2.9 29 12.6s19.3 39.9 29 58.1s19.3 29 29 26.1s19.3-19.4 28.9-38.8s19.3-40.7 29-50.8s19.3-8.3 29 4s19.3 34.3 29 52.5s19.3 31.3 29 31.3"/></g><use href="#cb" class="o1" transform="translate(0 552.5) scale(1 -1.8271)"/><g class="gt"><path d="M243.2 666.3c9.7-40 19.3-107.9 29-160.7s19.3-86.9 29-83.6s19.3 43.1 29 92.4s19.3 104.2 29 131.5s19.3 25.5 29-1.8s19.3-77.8 28.9-119s19.3-70.7 29-71.7s19.3 26 29 62.5s19.3 79.7 29 103.2s19.3 26.1 29 7.8s19.3-55.7 29-88.4s19.3-58.2 29-62.1s19.3 14 29 41.2s19.3 61.7 29 82.3s19.3 26.1 29 14.3s19.3-39.8 28.9-66.1s19.3-49.2 29-55.1s19.3 5.2 29 25.7s19.3 48.8 29 67.4s19.3 26.4 29 19.4s19.3-28.2 29-50.2s19.3-43.1 29-50.8s19.3-1.7 29 14s19.3 39.7 29 57.4s19.3 27.9 29 24.6s19.3-19.7 28.9-38.8s19.3-39.9 29-49.6s19.3-7.8 29 4.4s19.3 33.9 29 51.7s19.3 30.6 29 30.6"/></g><use href="#cb" class="o1" transform="translate(0 552.5) scale(1 -1.7724)"/><g class="gt"><path d="M243.2 660.4c9.7-42.5 19.3-111 29-162.3s19.3-81.9 29-75.4s19.3 49 29 98.8s19.3 103.2 29 128s19.3 19.8 29-9.5s19.3-80.3 28.9-120.5s19.3-67.2 29-65.9s19.3 30.3 29 67.3s19.3 79.2 29 101s19.3 22.1 29 2.3s19.3-57.7 29-89.7s19.3-55.9 29-58.1s19.3 17.1 29 44.7s19.3 61.4 29 80.8s19.3 23.2 29 10.4s19.3-41.3 28.9-67.1s19.3-47.4 29-52.2s19.3 7.4 29 28.1s19.3 48.5 29 66.3s19.3 24.5 29 16.8s19.3-29 29-50.6s19.3-41.9 29-48.9s19.3-.3 29 15.4s19.3 39.3 29 56.4s19.3 26.6 29 23s19.3-19.9 28.9-38.7s19.3-39 29-48.3s19.3-7.2 29 4.9s19.3 33.2 29 50.6s19.3 29.9 29 29.9"/></g><use href="#cb" class="o1" transform="translate(0 552.5) scale(1 -1.7107)"/><use href="#cb" class="o2" transform="translate(0 552.5) scale(1 -1.6423)"/><use href="#cb" class="o2" transform="translate(0 552.5) scale(1 -1.5674)"/><use href="#cb" class="o2" transform="translate(0 552.5) scale(1 -1.4863)"/><use href="#cb" class="o2" transform="translate(0 552.5) scale(1 -1.3993)"/><use href="#cb" class="o2" transform="translate(0 552.5) scale(1 -1.3068)"/><use href="#cb" class="o2" transform="translate(0 552.5) scale(1 -1.2092)"/><use href="#cb" class="o2" transform="translate(0 552.5) scale(1 -1.1068)"/><use href="#cb" class="o2" transform="translate(0 552.5) scale(1 -1.0000)"/><use href="#cb" class="o2" transform="translate(0 552.5) scale(1 -0.8893)"/><use href="#cb" class="o2" transform="translate(0 552.5) scale(1 -0.7750)"/><use href="#cb" class="o2" transform="translate(0 552.5) scale(1 -0.6577)"/><use href="#cb" class="o2" transform="translate(0 552.5) scale(1 -0.5378)"/><use href="#cb" class="o2" transform="translate(0 552.5) scale(1 -0.4158)"/><use href="#cb" class="o2" transform="translate(0 552.5) scale(1 -0.2922)"/><use href="#cb" class="o2" transform="translate(0 552.5) scale(1 -0.1674)"/><use href="#cb" class="o2" transform="translate(0 552.5) scale(1 -0.0419)"/><use href="#cb" class="o2" transform="translate(0 552.5) scale(1 0.0838)"/><use href="#cb" class="o2" transform="translate(0 552.5) scale(1 0.2091)"/><use href="#cb" class="o2" transform="translate(0 552.5) scale(1 0.3335)"/><use href="#cb" class="o2" transform="translate(0 552.5) scale(1 0.4567)"/><use href="#cb" class="o2" transform="translate(0 552.5) scale(1 0.5781)"/><use href="#cb" class="o2" transform="translate(0 552.5) scale(1 0.6971)"/><use href="#cb" class="o2" transform="translate(0 552.5) scale(1 0.8135)"/><use href="#cb" class="o2" transform="translate(0 552.5) scale(1 0.9266)"/><use href="#cb" class="o2" transform="translate(0 552.5) scale(1 1.0361)"/><use href="#cb" class="o2" transform="translate(0 552.5) scale(1 1.1414)"/><use href="#cb" class="o2" transform="translate(0 552.5) scale(1 1.2423)"/><use href="#cb" class="o2" transform="translate(0 552.5) scale(1 1.3383)"/><use href="#cb" class="o2" transform="translate(0 552.5) scale(1 1.4289)"/><use href="#cb" class="o2" transform="translate(0 552.5) scale(1 1.5140)"/></g>
<g font-family="Liberation Sans"><circle cx="243.2" cy="552.5" r="3.6" fill="#0000ff" stroke="#000" stroke-width="1"/><circle cx="1112.9" cy="552.5" r="3.6" fill="#8080ff" stroke="#000" stroke-width="1"/><text x="246.8" y="546.9" font-size="13.33" fill="#0000ff">A</text><text x="1116.8" y="546.6" font-size="13.33" fill="#8080ff">B</text></g>
<rect x="8.5" y="922.5" width="18" height="18" fill="none" stroke="#bcb6b6" stroke-width="1"/><rect x="13.5" y="927.5" width="3" height="9" fill="#f4f4f0" stroke="#505050" stroke-width="1"/><rect x="19.5" y="927.5" width="3" height="9" fill="#f4f4f0" stroke="#505050" stroke-width="1"/>
<path d="M48.5 153.4H150.2" stroke="#ff8000" stroke-width="2.5"/><circle cx="138.4" cy="153.4" r="3.4" fill="#ff8000" stroke="#000" stroke-width="1.1"/><text x="127.2" y="142" font-size="13.33" fill="#ff8000" textLength="39.4" lengthAdjust="spacing">L = 89</text><path d="M47.7 205.4H149.4" stroke="#8000ff" stroke-width="2.5"/><circle cx="68.4" cy="205.4" r="3.4" fill="#8000ff" stroke="#000" stroke-width="1.1"/><text x="57.6" y="193.9" font-size="13.33" fill="#8000ff" textLength="39.8" lengthAdjust="spacing">T = 10</text><path d="M51.5 259.3H153.7" stroke="#ff0000" stroke-width="2.5"/><circle cx="82.4" cy="259.3" r="3.4" fill="#ff0000" stroke="#000" stroke-width="1.1"/><text x="71.3" y="247.7" font-size="13.33" fill="#ff0000" textLength="38.1" lengthAdjust="spacing">λ = 15</text><path d="M56.4 318.4H158.1" stroke="#669900" stroke-width="2.5"/><circle cx="61.3" cy="318.4" r="3.4" fill="#669900" stroke="#000" stroke-width="1.1"/><text x="50.3" y="306.9" font-size="13.33" fill="#669900" textLength="51.2" lengthAdjust="spacing">δ = 0.02</text><path d="M52.7 374.3H154.6" stroke="#009900" stroke-width="2.5"/><circle cx="86.5" cy="374.3" r="3.4" fill="#009900" stroke="#000" stroke-width="1.1"/><text x="74.6" y="362.9" font-size="13.33" fill="#009900" textLength="40.0" lengthAdjust="spacing">t = 3.3</text><rect x="46.2" y="429.5" width="12" height="12" fill="#fff"/><path d="M46.7 441.5V430.0H58.2" stroke="#808080" stroke-width="1" fill="none"/><path d="M47.7 440.5V431.0H57.2" stroke="#404040" stroke-width="1" fill="none"/><path d="M46.7 441.5H58.2V430.0" stroke="#fff" stroke-width="1" fill="none"/><text x="63.5" y="439.3" font-size="13.33" fill="#000">a/b</text><rect x="48.2" y="482" width="12" height="12" fill="#fff"/><path d="M48.7 494V482.5H60.2" stroke="#808080" stroke-width="1" fill="none"/><path d="M49.7 493V483.5H59.2" stroke="#404040" stroke-width="1" fill="none"/><path d="M48.7 494H60.2V482.5" stroke="#fff" stroke-width="1" fill="none"/><path d="M51.2 487.5L53.2 490L57.5 485" stroke="#000" stroke-width="2" fill="none"/><text x="65.6" y="492.7" font-size="13.33" fill="#000">c</text><defs><linearGradient id="rg" x1="0" y1="0" x2="0" y2="1"><stop offset="0" stop-color="#a4f2ff"/><stop offset="1" stop-color="#5cc8f4"/></linearGradient></defs><rect x="110.7" y="453.5" width="47.6" height="22.8" rx="4.5" fill="url(#rg)" stroke="#4a5a66" stroke-width="1"/><text x="115.4" y="469.8" font-size="12.2" fill="#000" textLength="38.1" lengthAdjust="spacingAndGlyphs">refresh</text>
<g font-family="Liberation Sans"><text x="324.5" y="184.0" font-size="16.5" font-weight="bold" fill="#ff0000">a</text><text x="339.0" y="184.0" font-size="16" font-weight="bold" fill="#ff0000">:</text><text x="362.0" y="184.0" font-size="17" fill="#ff0000" stroke="#ff0000" stroke-width="0.7">f</text><path d="M374.7 171.8Q370.8 180.5 374.7 189.2" stroke="#ff0000" stroke-width="1.5" fill="none"/><text x="376.6" y="184.0" font-size="17" fill="#ff0000" stroke="#ff0000" stroke-width="0.7">x</text><path d="M387.8 171.8Q391.7 180.5 387.8 189.2" stroke="#ff0000" stroke-width="1.5" fill="none"/><path d="M399.7 178.4H412.2M399.7 182.4H412.2" stroke="#ff0000" stroke-width="1.3"/><text x="418.6" y="184.0" font-size="17" fill="#ff0000" stroke="#ff0000" stroke-width="0.7">e</text><path d="M429.4 173.6H437.4" stroke="#ff0000" stroke-opacity=".4" stroke-width="1.8"/><text x="438.0" y="177.1" font-size="12.7" font-weight="bold" fill="#ff0000" textLength="30.0" lengthAdjust="spacingAndGlyphs">0.02x</text><text x="477.8" y="184.0" font-size="17" fill="#ff0000" stroke="#ff0000" stroke-width="0.7" textLength="24.2" lengthAdjust="spacing">sin</text><path d="M515.5 165.0Q505.2 180.0 515.5 195.0" stroke="#ff0000" stroke-width="0.9" fill="none"/><text x="516.3" y="184.0" font-size="17" fill="#ff0000" stroke="#ff0000" stroke-width="0.7" textLength="7.7" lengthAdjust="spacingAndGlyphs">2</text><circle cx="531.0" cy="179.6" r="1.5" fill="#ff0000"/><path d="M539.9 179.6H559.3" stroke="#ff0000" stroke-width="1.1"/><text x="544.4" y="172.0" font-size="14" font-family="Liberation Serif" font-style="italic" fill="#ff0000" stroke="#ff0000" stroke-width="0.45" textLength="10.6" lengthAdjust="spacingAndGlyphs">π</text><text x="540.7" y="195.0" font-size="17" fill="#ff0000" stroke="#ff0000" stroke-width="0.7" textLength="17.6" lengthAdjust="spacingAndGlyphs">10</text><circle cx="568.0" cy="179.6" r="1.5" fill="#ff0000"/><text x="573.9" y="184.0" font-size="17" fill="#ff0000" stroke="#ff0000" stroke-width="0.7" textLength="23.2" lengthAdjust="spacingAndGlyphs">3.3</text><path d="M604.0 179.8H615.1" stroke="#ff0000" stroke-width="1.1"/><text x="621.1" y="184.0" font-size="17" fill="#ff0000" stroke="#ff0000" stroke-width="0.7" textLength="7.8" lengthAdjust="spacingAndGlyphs">2</text><circle cx="637.0" cy="179.6" r="1.5" fill="#ff0000"/><path d="M646.1 179.6H665.9" stroke="#ff0000" stroke-width="1.1"/><text x="650.8" y="172.0" font-size="14" font-family="Liberation Serif" font-style="italic" fill="#ff0000" stroke="#ff0000" stroke-width="0.45" textLength="10.6" lengthAdjust="spacingAndGlyphs">π</text><text x="647.1" y="195.0" font-size="17" fill="#ff0000" stroke="#ff0000" stroke-width="0.7" textLength="17.6" lengthAdjust="spacingAndGlyphs">15</text><text x="675.2" y="184.0" font-size="17" fill="#ff0000" stroke="#ff0000" stroke-width="0.7">x</text><path d="M685.6 165.0Q694.1 180.0 685.6 195.0" stroke="#ff0000" stroke-width="0.9" fill="none"/><path d="M699.3 179.8H712.2M705.8 173.3V186.3" stroke="#ff0000" stroke-width="1.1"/><text x="717.6" y="184.0" font-size="17" fill="#ff0000" stroke="#ff0000" stroke-width="0.7">e</text><path d="M728.9 173.6H736.9" stroke="#ff0000" stroke-opacity=".4" stroke-width="1.8"/><text x="737.5" y="177.1" font-size="12.7" font-weight="bold" fill="#ff0000" textLength="75.3" lengthAdjust="spacingAndGlyphs">(0.02(89−x))</text><text x="822.7" y="184.0" font-size="17" fill="#ff0000" stroke="#ff0000" stroke-width="0.7" textLength="23.4" lengthAdjust="spacing">sin</text><path d="M859.4 165.0Q849.8 180.0 859.4 195.0" stroke="#ff0000" stroke-width="0.9" fill="none"/><text x="860.0" y="184.0" font-size="17" fill="#ff0000" stroke="#ff0000" stroke-width="0.7" textLength="8.0" lengthAdjust="spacingAndGlyphs">2</text><circle cx="875.0" cy="179.6" r="1.5" fill="#ff0000"/><path d="M884.3 179.6H903.7" stroke="#ff0000" stroke-width="1.1"/><text x="888.8" y="172.0" font-size="14" font-family="Liberation Serif" font-style="italic" fill="#ff0000" stroke="#ff0000" stroke-width="0.45" textLength="10.6" lengthAdjust="spacingAndGlyphs">π</text><text x="885.1" y="195.0" font-size="17" fill="#ff0000" stroke="#ff0000" stroke-width="0.7" textLength="17.6" lengthAdjust="spacingAndGlyphs">10</text><circle cx="912.6" cy="179.6" r="1.5" fill="#ff0000"/><text x="918.7" y="184.0" font-size="17" fill="#ff0000" stroke="#ff0000" stroke-width="0.7" textLength="23.2" lengthAdjust="spacingAndGlyphs">3.3</text><path d="M948.7 179.8H960.8" stroke="#ff0000" stroke-width="1.1"/><text x="965.9" y="184.0" font-size="17" fill="#ff0000" stroke="#ff0000" stroke-width="0.7" textLength="8.3" lengthAdjust="spacingAndGlyphs">2</text><circle cx="981.7" cy="179.6" r="1.5" fill="#ff0000"/><path d="M989.9 179.6H1009.6" stroke="#ff0000" stroke-width="1.1"/><text x="994.6" y="172.0" font-size="14" font-family="Liberation Serif" font-style="italic" fill="#ff0000" stroke="#ff0000" stroke-width="0.45" textLength="10.6" lengthAdjust="spacingAndGlyphs">π</text><text x="990.9" y="195.0" font-size="17" fill="#ff0000" stroke="#ff0000" stroke-width="0.7" textLength="17.6" lengthAdjust="spacingAndGlyphs">15</text><path d="M1025.7 171.8Q1021.8 180.5 1025.7 189.2" stroke="#ff0000" stroke-width="1.5" fill="none"/><text x="1027.8" y="184.0" font-size="17" fill="#ff0000" stroke="#ff0000" stroke-width="0.7" textLength="17.2" lengthAdjust="spacingAndGlyphs">89</text><path d="M1051.8 179.8H1063.0" stroke="#ff0000" stroke-width="1.1"/><text x="1067.8" y="184.0" font-size="17" fill="#ff0000" stroke="#ff0000" stroke-width="0.7">x</text><path d="M1081.0 171.8Q1084.9 180.5 1081.0 189.2" stroke="#ff0000" stroke-width="1.5" fill="none"/><path d="M1086.2 165.0Q1095.5 180.0 1086.2 195.0" stroke="#ff0000" stroke-width="0.9" fill="none"/><text x="325.4" y="220.8" font-size="16.5" font-weight="bold" fill="#00c000">b</text><text x="340.5" y="220.8" font-size="16" font-weight="bold" fill="#00c000">:</text><text x="369.0" y="220.8" font-size="17" fill="#00c000" stroke="#00c000" stroke-width="0.7">f</text><path d="M381.4 208.6Q377.5 217.3 381.4 226.0" stroke="#00c000" stroke-width="1.5" fill="none"/><text x="383.3" y="220.8" font-size="17" fill="#00c000" stroke="#00c000" stroke-width="0.7">x</text><path d="M394.7 208.6Q398.6 217.3 394.7 226.0" stroke="#00c000" stroke-width="1.5" fill="none"/><path d="M406.8 215.2H419.3M406.8 219.2H419.3" stroke="#00c000" stroke-width="1.3"/><text x="424.2" y="220.8" font-size="17" fill="#00c000" stroke="#00c000" stroke-width="0.7">e</text><path d="M435.0 210.4H443.0" stroke="#00c000" stroke-opacity=".4" stroke-width="1.8"/><text x="443.6" y="213.9" font-size="12.7" font-weight="bold" fill="#00c000" textLength="31.9" lengthAdjust="spacingAndGlyphs">0.02x</text><text x="484.6" y="220.8" font-size="17" fill="#00c000" stroke="#00c000" stroke-width="0.7" textLength="23.5" lengthAdjust="spacing">sin</text><path d="M521.0 201.8Q511.7 216.8 521.0 231.8" stroke="#00c000" stroke-width="0.9" fill="none"/><text x="522.6" y="220.8" font-size="17" fill="#00c000" stroke="#00c000" stroke-width="0.7" textLength="7.7" lengthAdjust="spacingAndGlyphs">2</text><circle cx="537.2" cy="216.4" r="1.5" fill="#00c000"/><path d="M546.6 216.4H566.0" stroke="#00c000" stroke-width="1.1"/><text x="551.1" y="208.8" font-size="14" font-family="Liberation Serif" font-style="italic" fill="#00c000" stroke="#00c000" stroke-width="0.45" textLength="10.6" lengthAdjust="spacingAndGlyphs">π</text><text x="547.4" y="231.8" font-size="17" fill="#00c000" stroke="#00c000" stroke-width="0.7" textLength="17.6" lengthAdjust="spacingAndGlyphs">10</text><circle cx="574.6" cy="216.4" r="1.5" fill="#00c000"/><text x="581.0" y="220.8" font-size="17" fill="#00c000" stroke="#00c000" stroke-width="0.7" textLength="23.2" lengthAdjust="spacingAndGlyphs">3.3</text><path d="M611.0 216.6H622.7" stroke="#00c000" stroke-width="1.1"/><text x="627.9" y="220.8" font-size="17" fill="#00c000" stroke="#00c000" stroke-width="0.7" textLength="7.7" lengthAdjust="spacingAndGlyphs">2</text><circle cx="642.9" cy="216.4" r="1.5" fill="#00c000"/><path d="M652.4 216.4H672.1" stroke="#00c000" stroke-width="1.1"/><text x="657.0" y="208.8" font-size="14" font-family="Liberation Serif" font-style="italic" fill="#00c000" stroke="#00c000" stroke-width="0.45" textLength="10.6" lengthAdjust="spacingAndGlyphs">π</text><text x="653.3" y="231.8" font-size="17" fill="#00c000" stroke="#00c000" stroke-width="0.7" textLength="17.6" lengthAdjust="spacingAndGlyphs">15</text><text x="682.6" y="220.8" font-size="17" fill="#00c000" stroke="#00c000" stroke-width="0.7">x</text><path d="M692.7 201.8Q701.2 216.8 692.7 231.8" stroke="#00c000" stroke-width="0.9" fill="none"/><path d="M707.0 216.6H719.3M713.1 210.5V222.8" stroke="#00c000" stroke-width="1.1"/><text x="724.6" y="220.8" font-size="17" fill="#00c000" stroke="#00c000" stroke-width="0.7">e</text><path d="M735.2 210.4H743.2" stroke="#00c000" stroke-opacity=".4" stroke-width="1.8"/><text x="743.8" y="213.9" font-size="12.7" font-weight="bold" fill="#00c000" textLength="85.9" lengthAdjust="spacingAndGlyphs">(0.02(2·89−x))</text><text x="840.0" y="220.8" font-size="17" fill="#00c000" stroke="#00c000" stroke-width="0.7" textLength="22.9" lengthAdjust="spacing">sin</text><path d="M876.1 201.8Q867.6 216.8 876.1 231.8" stroke="#00c000" stroke-width="0.9" fill="none"/><text x="877.0" y="220.8" font-size="17" fill="#00c000" stroke="#00c000" stroke-width="0.7" textLength="8.2" lengthAdjust="spacingAndGlyphs">2</text><circle cx="892.4" cy="216.4" r="1.5" fill="#00c000"/><path d="M901.5 216.4H920.3" stroke="#00c000" stroke-width="1.1"/><text x="905.7" y="208.8" font-size="14" font-family="Liberation Serif" font-style="italic" fill="#00c000" stroke="#00c000" stroke-width="0.45" textLength="10.6" lengthAdjust="spacingAndGlyphs">π</text><text x="902.0" y="231.8" font-size="17" fill="#00c000" stroke="#00c000" stroke-width="0.7" textLength="17.6" lengthAdjust="spacingAndGlyphs">10</text><circle cx="929.6" cy="216.4" r="1.5" fill="#00c000"/><text x="936.0" y="220.8" font-size="17" fill="#00c000" stroke="#00c000" stroke-width="0.7" textLength="23.6" lengthAdjust="spacingAndGlyphs">3.3</text><path d="M965.6 216.6H977.3" stroke="#00c000" stroke-width="1.1"/><text x="982.9" y="220.8" font-size="17" fill="#00c000" stroke="#00c000" stroke-width="0.7" textLength="8.0" lengthAdjust="spacingAndGlyphs">2</text><circle cx="997.9" cy="216.4" r="1.5" fill="#00c000"/><path d="M1007.4 216.4H1026.7" stroke="#00c000" stroke-width="1.1"/><text x="1011.8" y="208.8" font-size="14" font-family="Liberation Serif" font-style="italic" fill="#00c000" stroke="#00c000" stroke-width="0.45" textLength="10.6" lengthAdjust="spacingAndGlyphs">π</text><text x="1008.1" y="231.8" font-size="17" fill="#00c000" stroke="#00c000" stroke-width="0.7" textLength="17.6" lengthAdjust="spacingAndGlyphs">15</text><path d="M1041.7 208.6Q1037.8 217.3 1041.7 226.0" stroke="#00c000" stroke-width="1.5" fill="none"/><text x="1044.4" y="220.8" font-size="17" fill="#00c000" stroke="#00c000" stroke-width="0.7" textLength="7.9" lengthAdjust="spacingAndGlyphs">2</text><circle cx="1059.4" cy="216.4" r="1.5" fill="#00c000"/><text x="1066.0" y="220.8" font-size="17" fill="#00c000" stroke="#00c000" stroke-width="0.7" textLength="17.8" lengthAdjust="spacingAndGlyphs">89</text><path d="M1090.3 216.6H1102.5" stroke="#00c000" stroke-width="1.1"/><text x="1108.2" y="220.8" font-size="17" fill="#00c000" stroke="#00c000" stroke-width="0.7">x</text><path d="M1120.0 208.6Q1123.9 217.3 1120.0 226.0" stroke="#00c000" stroke-width="1.5" fill="none"/><path d="M1126.0 201.8Q1136.0 216.8 1126.0 231.8" stroke="#00c000" stroke-width="0.9" fill="none"/><text x="326.8" y="259.6" font-size="16.5" font-weight="bold" fill="#ff9933">c</text><text x="341.5" y="259.6" font-size="16" font-weight="bold" fill="#ff9933">:</text><text x="369.1" y="259.6" font-size="17" fill="#ff9933" stroke="#ff9933" stroke-width="0.7">f</text><path d="M381.1 247.4Q377.2 256.1 381.1 264.8" stroke="#ff9933" stroke-width="1.5" fill="none"/><text x="383.5" y="259.6" font-size="17" fill="#ff9933" stroke="#ff9933" stroke-width="0.7">x</text><path d="M394.8 247.4Q398.7 256.1 394.8 264.8" stroke="#ff9933" stroke-width="1.5" fill="none"/><path d="M406.3 254.0H419.0M406.3 258.0H419.0" stroke="#ff9933" stroke-width="1.3"/><text x="425.9" y="259.6" font-size="17" fill="#ff9933" stroke="#ff9933" stroke-width="0.7" textLength="23.5" lengthAdjust="spacing">sin</text><path d="M462.5 240.6Q452.9 255.6 462.5 270.6" stroke="#ff9933" stroke-width="0.9" fill="none"/><text x="463.4" y="259.6" font-size="17" fill="#ff9933" stroke="#ff9933" stroke-width="0.7" textLength="7.6" lengthAdjust="spacingAndGlyphs">2</text><circle cx="478.4" cy="255.2" r="1.5" fill="#ff9933"/><path d="M486.8 255.2H506.6" stroke="#ff9933" stroke-width="1.1"/><text x="491.5" y="247.6" font-size="14" font-family="Liberation Serif" font-style="italic" fill="#ff9933" stroke="#ff9933" stroke-width="0.45" textLength="10.6" lengthAdjust="spacingAndGlyphs">π</text><text x="487.8" y="270.6" font-size="17" fill="#ff9933" stroke="#ff9933" stroke-width="0.7" textLength="17.6" lengthAdjust="spacingAndGlyphs">10</text><circle cx="515.0" cy="255.2" r="1.5" fill="#ff9933"/><text x="522.1" y="259.6" font-size="17" fill="#ff9933" stroke="#ff9933" stroke-width="0.7" textLength="22.0" lengthAdjust="spacingAndGlyphs">3.3</text><path d="M551.6 255.4H563.4" stroke="#ff9933" stroke-width="1.1"/><text x="569.1" y="259.6" font-size="17" fill="#ff9933" stroke="#ff9933" stroke-width="0.7" textLength="7.5" lengthAdjust="spacingAndGlyphs">2</text><circle cx="584.4" cy="255.2" r="1.5" fill="#ff9933"/><path d="M592.8 255.2H612.8" stroke="#ff9933" stroke-width="1.1"/><text x="597.6" y="247.6" font-size="14" font-family="Liberation Serif" font-style="italic" fill="#ff9933" stroke="#ff9933" stroke-width="0.45" textLength="10.6" lengthAdjust="spacingAndGlyphs">π</text><text x="593.9" y="270.6" font-size="17" fill="#ff9933" stroke="#ff9933" stroke-width="0.7" textLength="17.6" lengthAdjust="spacingAndGlyphs">15</text><text x="622.6" y="259.6" font-size="17" fill="#ff9933" stroke="#ff9933" stroke-width="0.7">x</text><path d="M632.8 240.6Q641.9 255.6 632.8 270.6" stroke="#ff9933" stroke-width="0.9" fill="none"/><path d="M646.9 255.4H659.6M653.2 249.1V261.8" stroke="#ff9933" stroke-width="1.1"/><text x="665.6" y="259.6" font-size="17" fill="#ff9933" stroke="#ff9933" stroke-width="0.7" textLength="23.5" lengthAdjust="spacing">sin</text><path d="M702.2 240.6Q693.1 255.6 702.2 270.6" stroke="#ff9933" stroke-width="0.9" fill="none"/><text x="703.1" y="259.6" font-size="17" fill="#ff9933" stroke="#ff9933" stroke-width="0.7" textLength="7.9" lengthAdjust="spacingAndGlyphs">2</text><circle cx="719.1" cy="255.2" r="1.5" fill="#ff9933"/><path d="M727.5 255.2H746.3" stroke="#ff9933" stroke-width="1.1"/><text x="731.7" y="247.6" font-size="14" font-family="Liberation Serif" font-style="italic" fill="#ff9933" stroke="#ff9933" stroke-width="0.45" textLength="10.6" lengthAdjust="spacingAndGlyphs">π</text><text x="728.0" y="270.6" font-size="17" fill="#ff9933" stroke="#ff9933" stroke-width="0.7" textLength="17.6" lengthAdjust="spacingAndGlyphs">10</text><circle cx="754.6" cy="255.2" r="1.5" fill="#ff9933"/><text x="762.1" y="259.6" font-size="17" fill="#ff9933" stroke="#ff9933" stroke-width="0.7" textLength="22.0" lengthAdjust="spacingAndGlyphs">3.3</text><path d="M792.1 255.4H803.4" stroke="#ff9933" stroke-width="1.1"/><text x="809.0" y="259.6" font-size="17" fill="#ff9933" stroke="#ff9933" stroke-width="0.7" textLength="7.9" lengthAdjust="spacingAndGlyphs">2</text><circle cx="824.4" cy="255.2" r="1.5" fill="#ff9933"/><path d="M833.5 255.2H852.5" stroke="#ff9933" stroke-width="1.1"/><text x="837.8" y="247.6" font-size="14" font-family="Liberation Serif" font-style="italic" fill="#ff9933" stroke="#ff9933" stroke-width="0.45" textLength="10.6" lengthAdjust="spacingAndGlyphs">π</text><text x="834.1" y="270.6" font-size="17" fill="#ff9933" stroke="#ff9933" stroke-width="0.7" textLength="17.6" lengthAdjust="spacingAndGlyphs">15</text><path d="M867.7 247.4Q863.8 256.1 867.7 264.8" stroke="#ff9933" stroke-width="1.5" fill="none"/><text x="869.8" y="259.6" font-size="17" fill="#ff9933" stroke="#ff9933" stroke-width="0.7" textLength="18.0" lengthAdjust="spacingAndGlyphs">89</text><path d="M894.7 255.4H906.5" stroke="#ff9933" stroke-width="1.1"/><text x="912.2" y="259.6" font-size="17" fill="#ff9933" stroke="#ff9933" stroke-width="0.7">x</text><path d="M923.4 247.4Q927.3 256.1 923.4 264.8" stroke="#ff9933" stroke-width="1.5" fill="none"/><path d="M929.4 240.6Q939.0 255.6 929.4 270.6" stroke="#ff9933" stroke-width="0.9" fill="none"/></g>
<g font-family="Liberation Sans"><text x="345.2" y="146.7" font-size="32.6" font-weight="bold" font-style="italic" fill="#0000ff" textLength="745.4" lengthAdjust="spacingAndGlyphs">Interferenz eindimensionaler gedämpfter Wellen</text><text x="266" y="804.6" font-size="14" font-weight="bold" fill="#ff0000" textLength="379" lengthAdjust="spacingAndGlyphs" xml:space="preserve">a:  gegenläufige gedämpfte Wellen mit Start in A und B</text><text x="266" y="839" font-size="14" font-weight="bold" fill="#00c000" textLength="283.8" lengthAdjust="spacingAndGlyphs">b: gedämpfte Welle und ihre Reflektierte</text><text x="266" y="875" font-size="14" font-weight="bold" fill="#ff9933" textLength="348.8" lengthAdjust="spacingAndGlyphs" xml:space="preserve">c:  ungedämpfte Überlagerung mit Start in A und B</text><circle cx="931.3" cy="867.6" r="7.1" fill="none" stroke="#8080ff" stroke-width="1.1"/><text x="931.4" y="871.6" text-anchor="middle" font-size="11" font-weight="bold" fill="#8080ff">c</text><text x="947.3" y="872.5" font-size="14.5" font-weight="bold" font-style="italic" fill="#8080ff" textLength="249" lengthAdjust="spacing" xml:space="preserve">Roman Chijner,  Heidelberg 2012</text><text x="947" y="891.3" font-size="14.5" font-weight="bold" font-style="italic" fill="#8080ff" textLength="254.3" lengthAdjust="spacing" xml:space="preserve">Gestaltungshilfe :  Werner Knobloch</text></g>
</svg>
</div>
</body></html>
